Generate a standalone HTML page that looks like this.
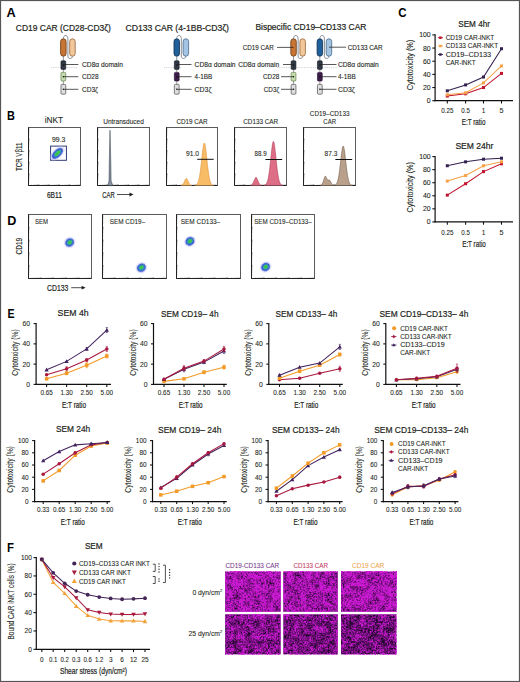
<!DOCTYPE html>
<html><head><meta charset="utf-8"><style>
html,body{margin:0;padding:0;background:#fff;width:520px;height:682px;overflow:hidden}
svg{display:block;font-family:"Liberation Sans", sans-serif}
</style></head><body>
<svg width="520" height="682" viewBox="0 0 520 682"><defs>
<filter id="bl" x="-50%" y="-50%" width="200%" height="200%"><feGaussianBlur stdDeviation="0.35"/></filter>
<filter id="n00" x="0" y="0" width="100%" height="100%" filterUnits="objectBoundingBox" color-interpolation-filters="sRGB">
<feTurbulence type="fractalNoise" baseFrequency="0.6" numOctaves="2" seed="3" result="t"/>
<feTurbulence type="fractalNoise" baseFrequency="0.15" numOctaves="2" seed="53" result="t2"/>
<feComposite in="t" in2="t2" operator="arithmetic" k1="0" k2="0.62" k3="0.38" k4="0" result="tt"/>
<feColorMatrix in="tt" type="matrix" values="0 0 0 0 0  0 0 0 0 0  0 0 0 0 0  3 0 0 0 -0.720" result="a"/>
<feFlood flood-color="#cc1ad4"/>
<feComposite in2="a" operator="in"/>
</filter>
<filter id="n01" x="0" y="0" width="100%" height="100%" filterUnits="objectBoundingBox" color-interpolation-filters="sRGB">
<feTurbulence type="fractalNoise" baseFrequency="0.6" numOctaves="2" seed="6" result="t"/>
<feTurbulence type="fractalNoise" baseFrequency="0.15" numOctaves="2" seed="56" result="t2"/>
<feComposite in="t" in2="t2" operator="arithmetic" k1="0" k2="0.62" k3="0.38" k4="0" result="tt"/>
<feColorMatrix in="tt" type="matrix" values="0 0 0 0 0  0 0 0 0 0  0 0 0 0 0  3 0 0 0 -0.765" result="a"/>
<feFlood flood-color="#cc1ad4"/>
<feComposite in2="a" operator="in"/>
</filter>
<filter id="n02" x="0" y="0" width="100%" height="100%" filterUnits="objectBoundingBox" color-interpolation-filters="sRGB">
<feTurbulence type="fractalNoise" baseFrequency="0.6" numOctaves="2" seed="9" result="t"/>
<feTurbulence type="fractalNoise" baseFrequency="0.15" numOctaves="2" seed="59" result="t2"/>
<feComposite in="t" in2="t2" operator="arithmetic" k1="0" k2="0.62" k3="0.38" k4="0" result="tt"/>
<feColorMatrix in="tt" type="matrix" values="0 0 0 0 0  0 0 0 0 0  0 0 0 0 0  3 0 0 0 -0.705" result="a"/>
<feFlood flood-color="#cc1ad4"/>
<feComposite in2="a" operator="in"/>
</filter>
<filter id="n10" x="0" y="0" width="100%" height="100%" filterUnits="objectBoundingBox" color-interpolation-filters="sRGB">
<feTurbulence type="fractalNoise" baseFrequency="0.6" numOctaves="2" seed="10" result="t"/>
<feTurbulence type="fractalNoise" baseFrequency="0.15" numOctaves="2" seed="60" result="t2"/>
<feComposite in="t" in2="t2" operator="arithmetic" k1="0" k2="0.62" k3="0.38" k4="0" result="tt"/>
<feColorMatrix in="tt" type="matrix" values="0 0 0 0 0  0 0 0 0 0  0 0 0 0 0  3 0 0 0 -0.930" result="a"/>
<feFlood flood-color="#cc1ad4"/>
<feComposite in2="a" operator="in"/>
</filter>
<filter id="n11" x="0" y="0" width="100%" height="100%" filterUnits="objectBoundingBox" color-interpolation-filters="sRGB">
<feTurbulence type="fractalNoise" baseFrequency="0.6" numOctaves="2" seed="13" result="t"/>
<feTurbulence type="fractalNoise" baseFrequency="0.15" numOctaves="2" seed="63" result="t2"/>
<feComposite in="t" in2="t2" operator="arithmetic" k1="0" k2="0.62" k3="0.38" k4="0" result="tt"/>
<feColorMatrix in="tt" type="matrix" values="0 0 0 0 0  0 0 0 0 0  0 0 0 0 0  3 0 0 0 -0.990" result="a"/>
<feFlood flood-color="#cc1ad4"/>
<feComposite in2="a" operator="in"/>
</filter>
<filter id="n12" x="0" y="0" width="100%" height="100%" filterUnits="objectBoundingBox" color-interpolation-filters="sRGB">
<feTurbulence type="fractalNoise" baseFrequency="0.6" numOctaves="2" seed="16" result="t"/>
<feTurbulence type="fractalNoise" baseFrequency="0.15" numOctaves="2" seed="66" result="t2"/>
<feComposite in="t" in2="t2" operator="arithmetic" k1="0" k2="0.62" k3="0.38" k4="0" result="tt"/>
<feColorMatrix in="tt" type="matrix" values="0 0 0 0 0  0 0 0 0 0  0 0 0 0 0  3 0 0 0 -1.020" result="a"/>
<feFlood flood-color="#cc1ad4"/>
<feComposite in2="a" operator="in"/>
</filter>
</defs>
<rect x="0.5" y="0.5" width="519" height="681" fill="none" stroke="#555" stroke-width="1.2" rx="0"/>
<text x="6.6" y="16.5" font-size="12.4" font-weight="bold" textLength="9.2" lengthAdjust="spacingAndGlyphs" fill="#000">A</text>
<text x="6.9" y="120" font-size="12.4" font-weight="bold" textLength="7.9" lengthAdjust="spacingAndGlyphs" fill="#000">B</text>
<text x="398.3" y="16.7" font-size="12.4" font-weight="bold" textLength="8.3" lengthAdjust="spacingAndGlyphs" fill="#000">C</text>
<text x="7.2" y="224.6" font-size="12.4" font-weight="bold" textLength="9.1" lengthAdjust="spacingAndGlyphs" fill="#000">D</text>
<text x="7.4" y="317.6" font-size="12.4" font-weight="bold" textLength="7.1" lengthAdjust="spacingAndGlyphs" fill="#000">E</text>
<text x="6.9" y="551.7" font-size="12.4" font-weight="bold" textLength="7.0" lengthAdjust="spacingAndGlyphs" fill="#000">F</text>
<text x="15.8" y="30.8" font-size="8.6" textLength="95" lengthAdjust="spacingAndGlyphs" fill="#231F20" stroke="#231F20" stroke-width="0.2">CD19 CAR (CD28-CD3ζ)</text>
<text x="125.5" y="30.8" font-size="8.6" textLength="103.5" lengthAdjust="spacingAndGlyphs" fill="#231F20" stroke="#231F20" stroke-width="0.2">CD133 CAR (4-1BB-CD3ζ)</text>
<text x="255.4" y="30.2" font-size="8.6" textLength="111" lengthAdjust="spacingAndGlyphs" fill="#231F20" stroke="#231F20" stroke-width="0.2">Bispecific CD19–CD133 CAR</text>
<path d="M63.35,38.8 C63.35,34.3 67.89999999999999,34.3 67.89999999999999,38.8 L67.89999999999999,56.2 C67.89999999999999,59.2 72.44999999999999,59.2 72.44999999999999,56.2" fill="none" stroke="#56606c" stroke-width="0.7"/>
<rect x="60.6" y="38.8" width="5.5" height="17.400000000000006" fill="#c87533" stroke="#6e3f18" stroke-width="0.85" rx="2.75"/>
<rect x="69.69999999999999" y="38.8" width="5.5" height="17.400000000000006" fill="#f2c89a" stroke="#9a6a44" stroke-width="0.85" rx="2.75"/>
<line x1="63.35" y1="56.2" x2="63.35" y2="61" stroke="#3a4a5a" stroke-width="0.6"/>
<line x1="63.35" y1="69.4" x2="63.35" y2="72.4" stroke="#555" stroke-width="0.6"/>
<line x1="63.35" y1="81.0" x2="63.35" y2="84.4" stroke="#555" stroke-width="0.6"/>
<line x1="51" y1="67.6" x2="77" y2="67.6" stroke="#a8a8b8" stroke-width="0.6" stroke-dasharray="0.9,0.9"/>
<rect x="60.95" y="60.8" width="4.8" height="8.600000000000009" fill="#2f3844" stroke="#161a20" stroke-width="0.6" rx="1"/>
<circle cx="63.35" cy="65.1" r="0.7" fill="#111"/>
<rect x="60.95" y="72.4" width="4.8" height="8.599999999999994" fill="#c6dcae" stroke="#4f6f37" stroke-width="0.6" rx="1"/>
<circle cx="63.35" cy="76.7" r="0.7" fill="#111"/>
<rect x="60.95" y="84.4" width="4.8" height="9.799999999999997" fill="#dedede" stroke="#333333" stroke-width="0.6" rx="1"/>
<circle cx="63.35" cy="89.30000000000001" r="0.7" fill="#111"/>
<line x1="63.35" y1="64.5" x2="78.3" y2="64.5" stroke="#231F20" stroke-width="0.75"/>
<text x="82" y="66.8" font-size="6.8" textLength="41" lengthAdjust="spacingAndGlyphs" fill="#231F20" stroke="#231F20" stroke-width="0.1">CD8α domain</text>
<line x1="63.35" y1="76.7" x2="78.3" y2="76.7" stroke="#231F20" stroke-width="0.75"/>
<text x="82" y="79.0" font-size="6.8" textLength="16.6" lengthAdjust="spacingAndGlyphs" fill="#231F20" stroke="#231F20" stroke-width="0.1">CD28</text>
<line x1="63.35" y1="89.3" x2="78.3" y2="89.3" stroke="#231F20" stroke-width="0.75"/>
<text x="82" y="91.6" font-size="6.8" textLength="16" lengthAdjust="spacingAndGlyphs" fill="#231F20" stroke="#231F20" stroke-width="0.1">CD3ζ</text>
<path d="M176.75,38.8 C176.75,34.3 181.3,34.3 181.3,38.8 L181.3,56.2 C181.3,59.2 185.85,59.2 185.85,56.2" fill="none" stroke="#56606c" stroke-width="0.7"/>
<rect x="174.0" y="38.8" width="5.5" height="17.400000000000006" fill="#1f5f9a" stroke="#143456" stroke-width="0.85" rx="2.75"/>
<rect x="183.1" y="38.8" width="5.5" height="17.400000000000006" fill="#a3c4e2" stroke="#4f6f8e" stroke-width="0.85" rx="2.75"/>
<line x1="176.75" y1="56.2" x2="176.75" y2="61" stroke="#3a4a5a" stroke-width="0.6"/>
<line x1="176.75" y1="69.4" x2="176.75" y2="72.4" stroke="#555" stroke-width="0.6"/>
<line x1="176.75" y1="81.0" x2="176.75" y2="84.4" stroke="#555" stroke-width="0.6"/>
<line x1="164" y1="67.6" x2="181" y2="67.6" stroke="#a8a8b8" stroke-width="0.6" stroke-dasharray="0.9,0.9"/>
<rect x="174.35" y="60.8" width="4.8" height="8.600000000000009" fill="#2f3844" stroke="#161a20" stroke-width="0.6" rx="1"/>
<circle cx="176.75" cy="65.1" r="0.7" fill="#111"/>
<rect x="174.35" y="72.4" width="4.8" height="8.599999999999994" fill="#3e1d4c" stroke="#1c0c26" stroke-width="0.6" rx="1"/>
<circle cx="176.75" cy="76.7" r="0.7" fill="#111"/>
<rect x="174.35" y="84.4" width="4.8" height="9.799999999999997" fill="#dedede" stroke="#333333" stroke-width="0.6" rx="1"/>
<circle cx="176.75" cy="89.30000000000001" r="0.7" fill="#111"/>
<line x1="176.75" y1="64.5" x2="191.5" y2="64.5" stroke="#231F20" stroke-width="0.75"/>
<text x="194.6" y="66.8" font-size="6.8" textLength="41" lengthAdjust="spacingAndGlyphs" fill="#231F20" stroke="#231F20" stroke-width="0.1">CD8α domain</text>
<line x1="176.75" y1="76.7" x2="191.5" y2="76.7" stroke="#231F20" stroke-width="0.75"/>
<text x="194.6" y="79.0" font-size="6.8" textLength="17.7" lengthAdjust="spacingAndGlyphs" fill="#231F20" stroke="#231F20" stroke-width="0.1">4-1BB</text>
<line x1="176.75" y1="89.3" x2="191.5" y2="89.3" stroke="#231F20" stroke-width="0.75"/>
<text x="194.6" y="91.6" font-size="6.8" textLength="16.9" lengthAdjust="spacingAndGlyphs" fill="#231F20" stroke="#231F20" stroke-width="0.1">CD3ζ</text>
<path d="M293.55,38.8 C293.55,34.3 298.1,34.3 298.1,38.8 L298.1,56.2 C298.1,59.2 302.65000000000003,59.2 302.65000000000003,56.2" fill="none" stroke="#56606c" stroke-width="0.7"/>
<rect x="290.8" y="38.8" width="5.5" height="17.400000000000006" fill="#c87533" stroke="#6e3f18" stroke-width="0.85" rx="2.75"/>
<rect x="299.90000000000003" y="38.8" width="5.5" height="17.400000000000006" fill="#f2c89a" stroke="#9a6a44" stroke-width="0.85" rx="2.75"/>
<line x1="293.55" y1="56.2" x2="293.55" y2="61" stroke="#3a4a5a" stroke-width="0.6"/>
<line x1="293.55" y1="69.4" x2="293.55" y2="72.4" stroke="#555" stroke-width="0.6"/>
<line x1="293.55" y1="81.0" x2="293.55" y2="84.4" stroke="#555" stroke-width="0.6"/>
<line x1="277" y1="67.6" x2="338" y2="67.6" stroke="#a8a8b8" stroke-width="0.6" stroke-dasharray="0.9,0.9"/>
<rect x="291.15000000000003" y="60.8" width="4.8" height="8.600000000000009" fill="#2f3844" stroke="#161a20" stroke-width="0.6" rx="1"/>
<circle cx="293.55" cy="65.1" r="0.7" fill="#111"/>
<rect x="291.15000000000003" y="72.4" width="4.8" height="8.599999999999994" fill="#c6dcae" stroke="#4f6f37" stroke-width="0.6" rx="1"/>
<circle cx="293.55" cy="76.7" r="0.7" fill="#111"/>
<rect x="291.15000000000003" y="84.4" width="4.8" height="9.799999999999997" fill="#dedede" stroke="#333333" stroke-width="0.6" rx="1"/>
<circle cx="293.55" cy="89.30000000000001" r="0.7" fill="#111"/>
<line x1="277" y1="47.4" x2="293.55" y2="47.4" stroke="#231F20" stroke-width="0.75"/>
<text x="273.8" y="49.7" font-size="6.8" text-anchor="end" textLength="31" lengthAdjust="spacingAndGlyphs" fill="#231F20" stroke="#231F20" stroke-width="0.1">CD19 CAR</text>
<line x1="283" y1="64.5" x2="293.55" y2="64.5" stroke="#231F20" stroke-width="0.75"/>
<text x="279.2" y="66.8" font-size="6.8" text-anchor="end" textLength="41" lengthAdjust="spacingAndGlyphs" fill="#231F20" stroke="#231F20" stroke-width="0.1">CD8α domain</text>
<line x1="281" y1="76.7" x2="293.55" y2="76.7" stroke="#231F20" stroke-width="0.75"/>
<text x="279.2" y="79.0" font-size="6.8" text-anchor="end" textLength="16.2" lengthAdjust="spacingAndGlyphs" fill="#231F20" stroke="#231F20" stroke-width="0.1">CD28</text>
<line x1="281" y1="89.3" x2="293.55" y2="89.3" stroke="#231F20" stroke-width="0.75"/>
<text x="279.2" y="91.6" font-size="6.8" text-anchor="end" textLength="15.4" lengthAdjust="spacingAndGlyphs" fill="#231F20" stroke="#231F20" stroke-width="0.1">CD3ζ</text>
<path d="M319.85,38.8 C319.85,34.3 324.40000000000003,34.3 324.40000000000003,38.8 L324.40000000000003,56.2 C324.40000000000003,59.2 328.95000000000005,59.2 328.95000000000005,56.2" fill="none" stroke="#56606c" stroke-width="0.7"/>
<rect x="317.1" y="38.8" width="5.5" height="17.400000000000006" fill="#1f5f9a" stroke="#143456" stroke-width="0.85" rx="2.75"/>
<rect x="326.20000000000005" y="38.8" width="5.5" height="17.400000000000006" fill="#a3c4e2" stroke="#4f6f8e" stroke-width="0.85" rx="2.75"/>
<line x1="319.85" y1="56.2" x2="319.85" y2="61" stroke="#3a4a5a" stroke-width="0.6"/>
<line x1="319.85" y1="69.4" x2="319.85" y2="72.4" stroke="#555" stroke-width="0.6"/>
<line x1="319.85" y1="81.0" x2="319.85" y2="84.4" stroke="#555" stroke-width="0.6"/>
<rect x="317.45000000000005" y="60.8" width="4.8" height="8.600000000000009" fill="#2f3844" stroke="#161a20" stroke-width="0.6" rx="1"/>
<circle cx="319.85" cy="65.1" r="0.7" fill="#111"/>
<rect x="317.45000000000005" y="72.4" width="4.8" height="8.599999999999994" fill="#3e1d4c" stroke="#1c0c26" stroke-width="0.6" rx="1"/>
<circle cx="319.85" cy="76.7" r="0.7" fill="#111"/>
<rect x="317.45000000000005" y="84.4" width="4.8" height="9.799999999999997" fill="#dedede" stroke="#333333" stroke-width="0.6" rx="1"/>
<circle cx="319.85" cy="89.30000000000001" r="0.7" fill="#111"/>
<line x1="329.0" y1="47.2" x2="346" y2="47.2" stroke="#231F20" stroke-width="0.75"/>
<text x="347.7" y="49.5" font-size="6.8" textLength="35" lengthAdjust="spacingAndGlyphs" fill="#231F20" stroke="#231F20" stroke-width="0.1">CD133 CAR</text>
<line x1="319.85" y1="64.5" x2="336.5" y2="64.5" stroke="#231F20" stroke-width="0.75"/>
<text x="338" y="66.8" font-size="6.8" textLength="40.8" lengthAdjust="spacingAndGlyphs" fill="#231F20" stroke="#231F20" stroke-width="0.1">CD8α domain</text>
<line x1="319.85" y1="76.7" x2="336.5" y2="76.7" stroke="#231F20" stroke-width="0.75"/>
<text x="338" y="79.0" font-size="6.8" textLength="17.7" lengthAdjust="spacingAndGlyphs" fill="#231F20" stroke="#231F20" stroke-width="0.1">4-1BB</text>
<line x1="319.85" y1="89.3" x2="336.5" y2="89.3" stroke="#231F20" stroke-width="0.75"/>
<text x="338" y="91.6" font-size="6.8" textLength="16.9" lengthAdjust="spacingAndGlyphs" fill="#231F20" stroke="#231F20" stroke-width="0.1">CD3ζ</text>
<rect x="28.5" y="127.5" width="52.0" height="58.0" fill="#fff" stroke="#4a4a4a" stroke-width="0.9" rx="0"/>
<path d="M28.2,182.0h1.1M31.6,185.8v-1.1M28.2,180.0h1.1M33.5,185.8v-1.1M28.2,178.5h1.1M34.8,185.8v-1.1M28.2,177.4h1.1M35.8,185.8v-1.1M28.2,176.5h1.1M36.6,185.8v-1.1M28.2,175.7h1.1M37.3,185.8v-1.1M28.2,175.0h1.1M37.9,185.8v-1.1M28.2,174.4h1.1M38.4,185.8v-1.1M28.2,173.9h1.6M38.9,185.8v-1.6M28.2,170.4h1.1M42.0,185.8v-1.1M28.2,168.4h1.1M43.9,185.8v-1.1M28.2,166.9h1.1M45.2,185.8v-1.1M28.2,165.8h1.1M46.2,185.8v-1.1M28.2,164.9h1.1M47.0,185.8v-1.1M28.2,164.1h1.1M47.7,185.8v-1.1M28.2,163.4h1.1M48.3,185.8v-1.1M28.2,162.8h1.1M48.8,185.8v-1.1M28.2,162.3h1.6M49.3,185.8v-1.6M28.2,158.8h1.1M52.4,185.8v-1.1M28.2,156.8h1.1M54.3,185.8v-1.1M28.2,155.3h1.1M55.6,185.8v-1.1M28.2,154.2h1.1M56.6,185.8v-1.1M28.2,153.3h1.1M57.4,185.8v-1.1M28.2,152.5h1.1M58.1,185.8v-1.1M28.2,151.8h1.1M58.7,185.8v-1.1M28.2,151.2h1.1M59.2,185.8v-1.1M28.2,150.7h1.6M59.7,185.8v-1.6M28.2,147.2h1.1M62.8,185.8v-1.1M28.2,145.2h1.1M64.7,185.8v-1.1M28.2,143.7h1.1M66.0,185.8v-1.1M28.2,142.6h1.1M67.0,185.8v-1.1M28.2,141.7h1.1M67.8,185.8v-1.1M28.2,140.9h1.1M68.5,185.8v-1.1M28.2,140.2h1.1M69.1,185.8v-1.1M28.2,139.6h1.1M69.6,185.8v-1.1M28.2,139.1h1.6M70.1,185.8v-1.6M28.2,135.6h1.1M73.2,185.8v-1.1M28.2,133.6h1.1M75.1,185.8v-1.1M28.2,132.1h1.1M76.4,185.8v-1.1M28.2,131.0h1.1M77.4,185.8v-1.1M28.2,130.1h1.1M78.2,185.8v-1.1M28.2,129.3h1.1M78.9,185.8v-1.1M28.2,128.6h1.1M79.5,185.8v-1.1" stroke="#333" stroke-width="0.45" fill="none"/>
<path d="M28.5,127.5V185.5H80.5" stroke="#222" stroke-width="1.0" fill="none"/>
<text x="44.7" y="123.1" font-size="8.4" textLength="18.5" lengthAdjust="spacingAndGlyphs" fill="#231F20" stroke="#231F20" stroke-width="0.08">iNKT</text>
<text x="52" y="142" font-size="6.4" textLength="13.4" lengthAdjust="spacingAndGlyphs" fill="#231F20" stroke="#231F20" stroke-width="0.08">99.3</text>
<rect x="50.6" y="146.1" width="15.8" height="14.2" fill="none" stroke="#26306e" stroke-width="0.95" rx="0"/>
<g transform="rotate(-44 57.4 153.4)" filter="url(#bl)">
<ellipse cx="57.4" cy="153.4" rx="8.84" ry="4.995000000000001" fill="#c0c8ff" opacity="0.5"/>
<ellipse cx="57.4" cy="153.4" rx="6.8" ry="3.7" fill="#3646c8"/>
<ellipse cx="57.4" cy="153.4" rx="5.304" ry="2.738" fill="#2f7fd8"/>
<ellipse cx="57.6" cy="153.3" rx="3.74" ry="1.85" fill="#3cc44c"/>
</g>
<text transform="translate(22.0,171.0) rotate(-90)" font-size="8.6" fill="#231F20" stroke="#231F20" stroke-width="0.12" textLength="28.3" lengthAdjust="spacingAndGlyphs">TCR Vβ11</text>
<text x="46.9" y="197.9" font-size="8.8" textLength="15.0" lengthAdjust="spacingAndGlyphs" fill="#231F20" stroke="#231F20" stroke-width="0.2">6B11</text>
<rect x="97.5" y="127.5" width="52.0" height="58.0" fill="#fff" stroke="#4a4a4a" stroke-width="0.9" rx="0"/>
<path d="M97.2,182.0h1.1M100.6,185.8v-1.1M97.2,180.0h1.1M102.5,185.8v-1.1M97.2,178.5h1.1M103.8,185.8v-1.1M97.2,177.4h1.1M104.8,185.8v-1.1M97.2,176.5h1.1M105.6,185.8v-1.1M97.2,175.7h1.1M106.3,185.8v-1.1M97.2,175.0h1.1M106.9,185.8v-1.1M97.2,174.4h1.1M107.4,185.8v-1.1M97.2,173.9h1.6M107.9,185.8v-1.6M97.2,170.4h1.1M111.0,185.8v-1.1M97.2,168.4h1.1M112.9,185.8v-1.1M97.2,166.9h1.1M114.2,185.8v-1.1M97.2,165.8h1.1M115.2,185.8v-1.1M97.2,164.9h1.1M116.0,185.8v-1.1M97.2,164.1h1.1M116.7,185.8v-1.1M97.2,163.4h1.1M117.3,185.8v-1.1M97.2,162.8h1.1M117.8,185.8v-1.1M97.2,162.3h1.6M118.3,185.8v-1.6M97.2,158.8h1.1M121.4,185.8v-1.1M97.2,156.8h1.1M123.3,185.8v-1.1M97.2,155.3h1.1M124.6,185.8v-1.1M97.2,154.2h1.1M125.6,185.8v-1.1M97.2,153.3h1.1M126.4,185.8v-1.1M97.2,152.5h1.1M127.1,185.8v-1.1M97.2,151.8h1.1M127.7,185.8v-1.1M97.2,151.2h1.1M128.2,185.8v-1.1M97.2,150.7h1.6M128.7,185.8v-1.6M97.2,147.2h1.1M131.8,185.8v-1.1M97.2,145.2h1.1M133.7,185.8v-1.1M97.2,143.7h1.1M135.0,185.8v-1.1M97.2,142.6h1.1M136.0,185.8v-1.1M97.2,141.7h1.1M136.8,185.8v-1.1M97.2,140.9h1.1M137.5,185.8v-1.1M97.2,140.2h1.1M138.1,185.8v-1.1M97.2,139.6h1.1M138.6,185.8v-1.1M97.2,139.1h1.6M139.1,185.8v-1.6M97.2,135.6h1.1M142.2,185.8v-1.1M97.2,133.6h1.1M144.1,185.8v-1.1M97.2,132.1h1.1M145.4,185.8v-1.1M97.2,131.0h1.1M146.4,185.8v-1.1M97.2,130.1h1.1M147.2,185.8v-1.1M97.2,129.3h1.1M147.9,185.8v-1.1M97.2,128.6h1.1M148.5,185.8v-1.1" stroke="#333" stroke-width="0.45" fill="none"/>
<path d="M97.5,127.5V185.5H149.5" stroke="#222" stroke-width="1.0" fill="none"/>
<text x="103.2" y="123.8" font-size="6.4" textLength="40.6" lengthAdjust="spacingAndGlyphs" fill="#231F20" stroke="#231F20" stroke-width="0.08">Untransduced</text>
<path d="M107.8,185.6 L109.0,181 L109.3,162 L110.0,130.2 L110.8,162 L111.1,181 L112.9,185.6 Z" fill="#8591a0" stroke="#2e3844" stroke-width="0.5"/>
<text x="102.3" y="197.5" font-size="8.6" textLength="12.3" lengthAdjust="spacingAndGlyphs" fill="#231F20" stroke="#231F20" stroke-width="0.2">CAR</text>
<line x1="117" y1="194.5" x2="131.5" y2="194.5" stroke="#231F20" stroke-width="0.8"/>
<path d="M133.5,194.5 L129.5,192.6 L129.5,196.4 Z" fill="#231F20"/>
<rect x="166.5" y="127.5" width="51.0" height="58.0" fill="#fff" stroke="#4a4a4a" stroke-width="0.9" rx="0"/>
<path d="M166.2,182.0h1.1M169.6,185.8v-1.1M166.2,180.0h1.1M171.4,185.8v-1.1M166.2,178.5h1.1M172.6,185.8v-1.1M166.2,177.4h1.1M173.6,185.8v-1.1M166.2,176.5h1.1M174.4,185.8v-1.1M166.2,175.7h1.1M175.1,185.8v-1.1M166.2,175.0h1.1M175.7,185.8v-1.1M166.2,174.4h1.1M176.2,185.8v-1.1M166.2,173.9h1.6M176.7,185.8v-1.6M166.2,170.4h1.1M179.8,185.8v-1.1M166.2,168.4h1.1M181.6,185.8v-1.1M166.2,166.9h1.1M182.8,185.8v-1.1M166.2,165.8h1.1M183.8,185.8v-1.1M166.2,164.9h1.1M184.6,185.8v-1.1M166.2,164.1h1.1M185.3,185.8v-1.1M166.2,163.4h1.1M185.9,185.8v-1.1M166.2,162.8h1.1M186.4,185.8v-1.1M166.2,162.3h1.6M186.9,185.8v-1.6M166.2,158.8h1.1M190.0,185.8v-1.1M166.2,156.8h1.1M191.8,185.8v-1.1M166.2,155.3h1.1M193.0,185.8v-1.1M166.2,154.2h1.1M194.0,185.8v-1.1M166.2,153.3h1.1M194.8,185.8v-1.1M166.2,152.5h1.1M195.5,185.8v-1.1M166.2,151.8h1.1M196.1,185.8v-1.1M166.2,151.2h1.1M196.6,185.8v-1.1M166.2,150.7h1.6M197.1,185.8v-1.6M166.2,147.2h1.1M200.2,185.8v-1.1M166.2,145.2h1.1M202.0,185.8v-1.1M166.2,143.7h1.1M203.2,185.8v-1.1M166.2,142.6h1.1M204.2,185.8v-1.1M166.2,141.7h1.1M205.0,185.8v-1.1M166.2,140.9h1.1M205.7,185.8v-1.1M166.2,140.2h1.1M206.3,185.8v-1.1M166.2,139.6h1.1M206.8,185.8v-1.1M166.2,139.1h1.6M207.3,185.8v-1.6M166.2,135.6h1.1M210.4,185.8v-1.1M166.2,133.6h1.1M212.2,185.8v-1.1M166.2,132.1h1.1M213.4,185.8v-1.1M166.2,131.0h1.1M214.4,185.8v-1.1M166.2,130.1h1.1M215.2,185.8v-1.1M166.2,129.3h1.1M215.9,185.8v-1.1M166.2,128.6h1.1" stroke="#333" stroke-width="0.45" fill="none"/>
<path d="M166.5,127.5V185.5H217.5" stroke="#222" stroke-width="1.0" fill="none"/>
<text x="176.4" y="123.5" font-size="6.6" textLength="31.2" lengthAdjust="spacingAndGlyphs" fill="#231F20" stroke="#231F20" stroke-width="0.08">CD19 CAR</text>
<path d="M181.00,185.50 L181.00,185.35 L181.25,185.29 L181.50,185.21 L181.75,185.11 L182.00,184.97 L182.25,184.80 L182.50,184.59 L182.75,184.33 L183.00,184.03 L183.25,183.67 L183.50,183.25 L183.75,182.79 L184.00,182.28 L184.25,181.74 L184.50,181.18 L184.75,180.62 L185.00,180.07 L185.25,179.56 L185.50,179.12 L185.75,178.76 L186.00,178.52 L186.25,178.40 L186.50,178.45 L186.75,178.65 L187.00,178.96 L187.25,179.37 L187.50,179.86 L187.75,180.39 L188.00,180.96 L188.25,181.52 L188.50,182.07 L188.75,182.59 L189.00,183.08 L189.25,183.51 L189.50,183.89 L189.75,184.22 L190.00,184.49 L190.25,184.72 L190.50,184.91 L190.75,185.06 L191.00,185.17 L191.25,185.26 L191.50,185.33 L191.75,185.38 L191.75,185.50" fill="#f8bb66" stroke="#dc9030" stroke-width="0.55"/>
<path d="M194.75,185.50 L194.75,185.37 L195.00,185.32 L195.25,185.26 L195.50,185.19 L195.75,185.10 L196.00,184.98 L196.25,184.84 L196.50,184.66 L196.75,184.43 L197.00,184.16 L197.25,183.82 L197.50,183.42 L197.75,182.94 L198.00,182.38 L198.25,181.71 L198.50,180.93 L198.75,180.04 L199.00,179.01 L199.25,177.85 L199.50,176.54 L199.75,175.08 L200.00,173.47 L200.25,171.72 L200.50,169.83 L200.75,167.81 L201.00,165.67 L201.25,163.45 L201.50,161.16 L201.75,158.84 L202.00,156.52 L202.25,154.24 L202.50,152.05 L202.75,149.99 L203.00,148.10 L203.25,146.44 L203.50,145.05 L203.75,143.97 L204.00,143.24 L204.25,142.91 L204.50,143.06 L204.75,143.63 L205.00,144.58 L205.25,145.85 L205.50,147.41 L205.75,149.21 L206.00,151.21 L206.25,153.35 L206.50,155.60 L206.75,157.91 L207.00,160.23 L207.25,162.54 L207.50,164.79 L207.75,166.97 L208.00,169.03 L208.25,170.98 L208.50,172.79 L208.75,174.46 L209.00,175.97 L209.25,177.34 L209.50,178.56 L209.75,179.64 L210.00,180.59 L210.25,181.41 L210.50,182.12 L210.75,182.73 L211.00,183.24 L211.25,183.67 L211.50,184.03 L211.75,184.33 L212.00,184.57 L212.25,184.77 L212.50,184.93 L212.75,185.06 L213.00,185.16 L213.25,185.24 L213.50,185.30 L213.75,185.35 L213.75,185.50" fill="#f8bb66" stroke="#dc9030" stroke-width="0.55"/>
<line x1="197.2" y1="159.3" x2="213.7" y2="159.3" stroke="#111" stroke-width="1.0"/>
<text x="186" y="155.9" font-size="6.4" textLength="13" lengthAdjust="spacingAndGlyphs" fill="#231F20" stroke="#231F20" stroke-width="0.08">91.0</text>
<rect x="234.5" y="127.5" width="52.0" height="58.0" fill="#fff" stroke="#4a4a4a" stroke-width="0.9" rx="0"/>
<path d="M234.2,182.0h1.1M237.6,185.8v-1.1M234.2,180.0h1.1M239.5,185.8v-1.1M234.2,178.5h1.1M240.8,185.8v-1.1M234.2,177.4h1.1M241.8,185.8v-1.1M234.2,176.5h1.1M242.6,185.8v-1.1M234.2,175.7h1.1M243.3,185.8v-1.1M234.2,175.0h1.1M243.9,185.8v-1.1M234.2,174.4h1.1M244.4,185.8v-1.1M234.2,173.9h1.6M244.9,185.8v-1.6M234.2,170.4h1.1M248.0,185.8v-1.1M234.2,168.4h1.1M249.9,185.8v-1.1M234.2,166.9h1.1M251.2,185.8v-1.1M234.2,165.8h1.1M252.2,185.8v-1.1M234.2,164.9h1.1M253.0,185.8v-1.1M234.2,164.1h1.1M253.7,185.8v-1.1M234.2,163.4h1.1M254.3,185.8v-1.1M234.2,162.8h1.1M254.8,185.8v-1.1M234.2,162.3h1.6M255.3,185.8v-1.6M234.2,158.8h1.1M258.4,185.8v-1.1M234.2,156.8h1.1M260.3,185.8v-1.1M234.2,155.3h1.1M261.6,185.8v-1.1M234.2,154.2h1.1M262.6,185.8v-1.1M234.2,153.3h1.1M263.4,185.8v-1.1M234.2,152.5h1.1M264.1,185.8v-1.1M234.2,151.8h1.1M264.7,185.8v-1.1M234.2,151.2h1.1M265.2,185.8v-1.1M234.2,150.7h1.6M265.7,185.8v-1.6M234.2,147.2h1.1M268.8,185.8v-1.1M234.2,145.2h1.1M270.7,185.8v-1.1M234.2,143.7h1.1M272.0,185.8v-1.1M234.2,142.6h1.1M273.0,185.8v-1.1M234.2,141.7h1.1M273.8,185.8v-1.1M234.2,140.9h1.1M274.5,185.8v-1.1M234.2,140.2h1.1M275.1,185.8v-1.1M234.2,139.6h1.1M275.6,185.8v-1.1M234.2,139.1h1.6M276.1,185.8v-1.6M234.2,135.6h1.1M279.2,185.8v-1.1M234.2,133.6h1.1M281.1,185.8v-1.1M234.2,132.1h1.1M282.4,185.8v-1.1M234.2,131.0h1.1M283.4,185.8v-1.1M234.2,130.1h1.1M284.2,185.8v-1.1M234.2,129.3h1.1M284.9,185.8v-1.1M234.2,128.6h1.1M285.5,185.8v-1.1" stroke="#333" stroke-width="0.45" fill="none"/>
<path d="M234.5,127.5V185.5H286.5" stroke="#222" stroke-width="1.0" fill="none"/>
<text x="243.2" y="123.8" font-size="6.6" textLength="35" lengthAdjust="spacingAndGlyphs" fill="#231F20" stroke="#231F20" stroke-width="0.08">CD133 CAR</text>
<path d="M250.30,185.50 L250.30,185.37 L250.56,185.31 L250.81,185.24 L251.06,185.15 L251.32,185.02 L251.57,184.86 L251.83,184.66 L252.09,184.42 L252.34,184.12 L252.59,183.77 L252.85,183.35 L253.10,182.88 L253.36,182.35 L253.62,181.78 L253.87,181.16 L254.12,180.53 L254.38,179.89 L254.63,179.26 L254.89,178.68 L255.15,178.17 L255.40,177.76 L255.66,177.46 L255.91,177.31 L256.17,177.34 L256.42,177.54 L256.68,177.87 L256.93,178.31 L257.19,178.85 L257.44,179.44 L257.69,180.07 L257.95,180.72 L258.20,181.35 L258.46,181.95 L258.71,182.52 L258.97,183.03 L259.23,183.48 L259.48,183.88 L259.74,184.21 L259.99,184.50 L260.25,184.73 L260.50,184.91 L260.75,185.06 L261.01,185.17 L261.26,185.26 L261.52,185.33 L261.77,185.37 L261.77,185.50" fill="#de6e86" stroke="#a83452" stroke-width="0.55"/>
<path d="M263.81,185.50 L263.81,185.36 L264.07,185.32 L264.32,185.26 L264.58,185.19 L264.83,185.09 L265.09,184.97 L265.35,184.82 L265.60,184.63 L265.86,184.39 L266.11,184.10 L266.37,183.74 L266.62,183.31 L266.88,182.80 L267.13,182.19 L267.38,181.47 L267.64,180.63 L267.89,179.66 L268.15,178.55 L268.40,177.29 L268.66,175.87 L268.92,174.30 L269.17,172.56 L269.43,170.66 L269.68,168.62 L269.94,166.45 L270.19,164.16 L270.44,161.78 L270.70,159.34 L270.95,156.89 L271.21,154.45 L271.47,152.08 L271.72,149.83 L271.98,147.74 L272.23,145.86 L272.49,144.25 L272.74,142.96 L273.00,142.02 L273.25,141.49 L273.50,141.45 L273.76,141.90 L274.01,142.76 L274.27,144.00 L274.52,145.56 L274.78,147.39 L275.03,149.45 L275.29,151.68 L275.55,154.03 L275.80,156.46 L276.06,158.91 L276.31,161.35 L276.56,163.74 L276.82,166.05 L277.07,168.25 L277.33,170.31 L277.58,172.23 L277.84,174.00 L278.10,175.61 L278.35,177.05 L278.61,178.34 L278.86,179.48 L279.12,180.47 L279.37,181.33 L279.62,182.07 L279.88,182.70 L280.13,183.23 L280.39,183.67 L280.64,184.04 L280.90,184.34 L281.15,184.59 L281.41,184.79 L281.67,184.95 L281.92,185.07 L282.18,185.17 L282.43,185.25 L282.69,185.31 L282.94,185.36 L282.94,185.50" fill="#de6e86" stroke="#a83452" stroke-width="0.55"/>
<line x1="265.4" y1="159.5" x2="282.2" y2="159.5" stroke="#111" stroke-width="1.0"/>
<text x="254.6" y="156.1" font-size="6.4" textLength="12.1" lengthAdjust="spacingAndGlyphs" fill="#231F20" stroke="#231F20" stroke-width="0.08">88.9</text>
<rect x="303.5" y="127.5" width="52.0" height="58.0" fill="#fff" stroke="#4a4a4a" stroke-width="0.9" rx="0"/>
<path d="M303.2,182.0h1.1M306.6,185.8v-1.1M303.2,180.0h1.1M308.5,185.8v-1.1M303.2,178.5h1.1M309.8,185.8v-1.1M303.2,177.4h1.1M310.8,185.8v-1.1M303.2,176.5h1.1M311.6,185.8v-1.1M303.2,175.7h1.1M312.3,185.8v-1.1M303.2,175.0h1.1M312.9,185.8v-1.1M303.2,174.4h1.1M313.4,185.8v-1.1M303.2,173.9h1.6M313.9,185.8v-1.6M303.2,170.4h1.1M317.0,185.8v-1.1M303.2,168.4h1.1M318.9,185.8v-1.1M303.2,166.9h1.1M320.2,185.8v-1.1M303.2,165.8h1.1M321.2,185.8v-1.1M303.2,164.9h1.1M322.0,185.8v-1.1M303.2,164.1h1.1M322.7,185.8v-1.1M303.2,163.4h1.1M323.3,185.8v-1.1M303.2,162.8h1.1M323.8,185.8v-1.1M303.2,162.3h1.6M324.3,185.8v-1.6M303.2,158.8h1.1M327.4,185.8v-1.1M303.2,156.8h1.1M329.3,185.8v-1.1M303.2,155.3h1.1M330.6,185.8v-1.1M303.2,154.2h1.1M331.6,185.8v-1.1M303.2,153.3h1.1M332.4,185.8v-1.1M303.2,152.5h1.1M333.1,185.8v-1.1M303.2,151.8h1.1M333.7,185.8v-1.1M303.2,151.2h1.1M334.2,185.8v-1.1M303.2,150.7h1.6M334.7,185.8v-1.6M303.2,147.2h1.1M337.8,185.8v-1.1M303.2,145.2h1.1M339.7,185.8v-1.1M303.2,143.7h1.1M341.0,185.8v-1.1M303.2,142.6h1.1M342.0,185.8v-1.1M303.2,141.7h1.1M342.8,185.8v-1.1M303.2,140.9h1.1M343.5,185.8v-1.1M303.2,140.2h1.1M344.1,185.8v-1.1M303.2,139.6h1.1M344.6,185.8v-1.1M303.2,139.1h1.6M345.1,185.8v-1.6M303.2,135.6h1.1M348.2,185.8v-1.1M303.2,133.6h1.1M350.1,185.8v-1.1M303.2,132.1h1.1M351.4,185.8v-1.1M303.2,131.0h1.1M352.4,185.8v-1.1M303.2,130.1h1.1M353.2,185.8v-1.1M303.2,129.3h1.1M353.9,185.8v-1.1M303.2,128.6h1.1M354.5,185.8v-1.1" stroke="#333" stroke-width="0.45" fill="none"/>
<path d="M303.5,127.5V185.5H355.5" stroke="#222" stroke-width="1.0" fill="none"/>
<text x="309.8" y="115.9" font-size="6.6" textLength="39.7" lengthAdjust="spacingAndGlyphs" fill="#231F20" stroke="#231F20" stroke-width="0.08">CD19–CD133</text>
<text x="323.3" y="123.7" font-size="6.6" textLength="12.7" lengthAdjust="spacingAndGlyphs" fill="#231F20" stroke="#231F20" stroke-width="0.08">CAR</text>
<path d="M320.41,185.50 L320.41,185.36 L320.66,185.29 L320.91,185.20 L321.17,185.06 L321.42,184.88 L321.67,184.65 L321.92,184.34 L322.18,183.96 L322.43,183.50 L322.68,182.94 L322.93,182.30 L323.19,181.58 L323.44,180.79 L323.69,179.95 L323.94,179.11 L324.19,178.30 L324.45,177.56 L324.70,176.93 L324.95,176.46 L325.20,176.18 L325.46,176.15 L325.71,176.34 L325.96,176.70 L326.21,177.18 L326.47,177.72 L326.72,178.28 L326.97,178.81 L327.23,179.27 L327.48,179.63 L327.73,179.89 L327.98,180.04 L328.24,180.10 L328.49,180.09 L328.74,180.05 L328.99,180.01 L329.25,180.02 L329.50,180.10 L329.75,180.30 L330.00,180.61 L330.25,180.99 L330.51,181.43 L330.76,181.91 L331.01,182.40 L331.26,182.89 L331.52,183.34 L331.77,183.75 L332.02,184.12 L332.27,184.43 L332.53,184.68 L332.78,184.88 L333.03,185.03 L333.29,185.14 L333.54,185.21 L333.79,185.25 L334.04,185.26 L334.30,185.24 L334.55,185.20 L334.80,185.13 L335.05,185.04 L335.31,184.91 L335.56,184.75 L335.81,184.54 L336.06,184.29 L336.31,183.97 L336.57,183.59 L336.82,183.13 L337.07,182.59 L337.32,181.94 L337.58,181.19 L337.83,180.31 L338.08,179.30 L338.33,178.15 L338.59,176.86 L338.84,175.42 L339.09,173.83 L339.35,172.10 L339.60,170.23 L339.85,168.24 L340.10,166.15 L340.36,163.97 L340.61,161.75 L340.86,159.51 L341.11,157.30 L341.37,155.16 L341.62,153.13 L341.87,151.27 L342.12,149.61 L342.38,148.22 L342.63,147.12 L342.88,146.38 L343.13,146.02 L343.38,146.13 L343.64,146.68 L343.89,147.59 L344.14,148.83 L344.39,150.35 L344.65,152.11 L344.90,154.06 L345.15,156.15 L345.40,158.33 L345.66,160.55 L345.91,162.79 L346.16,164.99 L346.42,167.13 L346.67,169.18 L346.92,171.12 L347.17,172.92 L347.43,174.59 L347.68,176.11 L347.93,177.48 L348.18,178.71 L348.44,179.79 L348.69,180.73 L348.94,181.55 L349.19,182.26 L349.44,182.85 L349.70,183.36 L349.95,183.78 L350.20,184.13 L350.45,184.41 L350.71,184.65 L350.96,184.84 L351.21,184.99 L351.47,185.10 L351.72,185.20 L351.97,185.27 L352.22,185.33 L352.48,185.37 L352.48,185.50" fill="#b8a08a" stroke="#6a5646" stroke-width="0.55"/>
<line x1="335.4" y1="159.5" x2="352.2" y2="159.5" stroke="#111" stroke-width="1.0"/>
<text x="324.6" y="156.1" font-size="6.4" textLength="12.8" lengthAdjust="spacingAndGlyphs" fill="#231F20" stroke="#231F20" stroke-width="0.08">87.3</text>
<rect x="28.5" y="214.5" width="63.0" height="64.0" fill="#fff" stroke="#4a4a4a" stroke-width="0.9" rx="0"/>
<path d="M28.2,274.6h1.1M32.3,278.8v-1.1M28.2,272.4h1.1M34.5,278.8v-1.1M28.2,270.8h1.1M36.1,278.8v-1.1M28.2,269.6h1.1M37.3,278.8v-1.1M28.2,268.5h1.1M38.3,278.8v-1.1M28.2,267.7h1.1M39.1,278.8v-1.1M28.2,266.9h1.1M39.9,278.8v-1.1M28.2,266.3h1.1M40.5,278.8v-1.1M28.2,265.7h1.6M41.1,278.8v-1.6M28.2,261.8h1.1M44.9,278.8v-1.1M28.2,259.6h1.1M47.1,278.8v-1.1M28.2,258.0h1.1M48.7,278.8v-1.1M28.2,256.8h1.1M49.9,278.8v-1.1M28.2,255.7h1.1M50.9,278.8v-1.1M28.2,254.9h1.1M51.7,278.8v-1.1M28.2,254.1h1.1M52.5,278.8v-1.1M28.2,253.5h1.1M53.1,278.8v-1.1M28.2,252.9h1.6M53.7,278.8v-1.6M28.2,249.0h1.1M57.5,278.8v-1.1M28.2,246.8h1.1M59.7,278.8v-1.1M28.2,245.2h1.1M61.3,278.8v-1.1M28.2,244.0h1.1M62.5,278.8v-1.1M28.2,242.9h1.1M63.5,278.8v-1.1M28.2,242.1h1.1M64.3,278.8v-1.1M28.2,241.3h1.1M65.1,278.8v-1.1M28.2,240.7h1.1M65.7,278.8v-1.1M28.2,240.1h1.6M66.3,278.8v-1.6M28.2,236.2h1.1M70.1,278.8v-1.1M28.2,234.0h1.1M72.3,278.8v-1.1M28.2,232.4h1.1M73.9,278.8v-1.1M28.2,231.2h1.1M75.1,278.8v-1.1M28.2,230.1h1.1M76.1,278.8v-1.1M28.2,229.3h1.1M76.9,278.8v-1.1M28.2,228.5h1.1M77.7,278.8v-1.1M28.2,227.9h1.1M78.3,278.8v-1.1M28.2,227.3h1.6M78.9,278.8v-1.6M28.2,223.4h1.1M82.7,278.8v-1.1M28.2,221.2h1.1M84.9,278.8v-1.1M28.2,219.6h1.1M86.5,278.8v-1.1M28.2,218.4h1.1M87.7,278.8v-1.1M28.2,217.3h1.1M88.7,278.8v-1.1M28.2,216.5h1.1M89.5,278.8v-1.1M28.2,215.7h1.1M90.3,278.8v-1.1" stroke="#333" stroke-width="0.45" fill="none"/>
<path d="M28.5,214.5V278.5H91.5" stroke="#222" stroke-width="1.0" fill="none"/>
<text x="35" y="224.4" font-size="6.8" textLength="13" lengthAdjust="spacingAndGlyphs" fill="#231F20" stroke="#231F20" stroke-width="0.08">SEM</text>
<g transform="rotate(-35 69.6 242.5)" filter="url(#bl)">
<ellipse cx="69.6" cy="242.5" rx="5.9799999999999995" ry="5.4" fill="#c0c8ff" opacity="0.5"/>
<ellipse cx="69.6" cy="242.5" rx="4.6" ry="4.0" fill="#3646c8"/>
<ellipse cx="69.6" cy="242.5" rx="3.5879999999999996" ry="2.96" fill="#2f7fd8"/>
<ellipse cx="69.8" cy="242.4" rx="2.53" ry="2.0" fill="#3cc44c"/>
</g>
<rect x="102.5" y="214.5" width="64.0" height="64.0" fill="#fff" stroke="#4a4a4a" stroke-width="0.9" rx="0"/>
<path d="M102.2,274.6h1.1M106.4,278.8v-1.1M102.2,272.4h1.1M108.6,278.8v-1.1M102.2,270.8h1.1M110.2,278.8v-1.1M102.2,269.6h1.1M111.4,278.8v-1.1M102.2,268.5h1.1M112.5,278.8v-1.1M102.2,267.7h1.1M113.3,278.8v-1.1M102.2,266.9h1.1M114.1,278.8v-1.1M102.2,266.3h1.1M114.7,278.8v-1.1M102.2,265.7h1.6M115.3,278.8v-1.6M102.2,261.8h1.1M119.2,278.8v-1.1M102.2,259.6h1.1M121.4,278.8v-1.1M102.2,258.0h1.1M123.0,278.8v-1.1M102.2,256.8h1.1M124.2,278.8v-1.1M102.2,255.7h1.1M125.3,278.8v-1.1M102.2,254.9h1.1M126.1,278.8v-1.1M102.2,254.1h1.1M126.9,278.8v-1.1M102.2,253.5h1.1M127.5,278.8v-1.1M102.2,252.9h1.6M128.1,278.8v-1.6M102.2,249.0h1.1M132.0,278.8v-1.1M102.2,246.8h1.1M134.2,278.8v-1.1M102.2,245.2h1.1M135.8,278.8v-1.1M102.2,244.0h1.1M137.0,278.8v-1.1M102.2,242.9h1.1M138.1,278.8v-1.1M102.2,242.1h1.1M138.9,278.8v-1.1M102.2,241.3h1.1M139.7,278.8v-1.1M102.2,240.7h1.1M140.3,278.8v-1.1M102.2,240.1h1.6M140.9,278.8v-1.6M102.2,236.2h1.1M144.8,278.8v-1.1M102.2,234.0h1.1M147.0,278.8v-1.1M102.2,232.4h1.1M148.6,278.8v-1.1M102.2,231.2h1.1M149.8,278.8v-1.1M102.2,230.1h1.1M150.9,278.8v-1.1M102.2,229.3h1.1M151.7,278.8v-1.1M102.2,228.5h1.1M152.5,278.8v-1.1M102.2,227.9h1.1M153.1,278.8v-1.1M102.2,227.3h1.6M153.7,278.8v-1.6M102.2,223.4h1.1M157.6,278.8v-1.1M102.2,221.2h1.1M159.8,278.8v-1.1M102.2,219.6h1.1M161.4,278.8v-1.1M102.2,218.4h1.1M162.6,278.8v-1.1M102.2,217.3h1.1M163.7,278.8v-1.1M102.2,216.5h1.1M164.5,278.8v-1.1M102.2,215.7h1.1M165.3,278.8v-1.1" stroke="#333" stroke-width="0.45" fill="none"/>
<path d="M102.5,214.5V278.5H166.5" stroke="#222" stroke-width="1.0" fill="none"/>
<text x="109.7" y="224.4" font-size="6.8" textLength="35.5" lengthAdjust="spacingAndGlyphs" fill="#231F20" stroke="#231F20" stroke-width="0.08">SEM CD19–</text>
<g transform="rotate(-35 141.4 267.7)" filter="url(#bl)">
<ellipse cx="141.4" cy="267.7" rx="5.9799999999999995" ry="5.4" fill="#c0c8ff" opacity="0.5"/>
<ellipse cx="141.4" cy="267.7" rx="4.6" ry="4.0" fill="#3646c8"/>
<ellipse cx="141.4" cy="267.7" rx="3.5879999999999996" ry="2.96" fill="#2f7fd8"/>
<ellipse cx="141.6" cy="267.59999999999997" rx="2.53" ry="2.0" fill="#3cc44c"/>
</g>
<rect x="176.5" y="214.5" width="64.0" height="64.0" fill="#fff" stroke="#4a4a4a" stroke-width="0.9" rx="0"/>
<path d="M176.2,274.6h1.1M180.4,278.8v-1.1M176.2,272.4h1.1M182.6,278.8v-1.1M176.2,270.8h1.1M184.2,278.8v-1.1M176.2,269.6h1.1M185.4,278.8v-1.1M176.2,268.5h1.1M186.5,278.8v-1.1M176.2,267.7h1.1M187.3,278.8v-1.1M176.2,266.9h1.1M188.1,278.8v-1.1M176.2,266.3h1.1M188.7,278.8v-1.1M176.2,265.7h1.6M189.3,278.8v-1.6M176.2,261.8h1.1M193.2,278.8v-1.1M176.2,259.6h1.1M195.4,278.8v-1.1M176.2,258.0h1.1M197.0,278.8v-1.1M176.2,256.8h1.1M198.2,278.8v-1.1M176.2,255.7h1.1M199.3,278.8v-1.1M176.2,254.9h1.1M200.1,278.8v-1.1M176.2,254.1h1.1M200.9,278.8v-1.1M176.2,253.5h1.1M201.5,278.8v-1.1M176.2,252.9h1.6M202.1,278.8v-1.6M176.2,249.0h1.1M206.0,278.8v-1.1M176.2,246.8h1.1M208.2,278.8v-1.1M176.2,245.2h1.1M209.8,278.8v-1.1M176.2,244.0h1.1M211.0,278.8v-1.1M176.2,242.9h1.1M212.1,278.8v-1.1M176.2,242.1h1.1M212.9,278.8v-1.1M176.2,241.3h1.1M213.7,278.8v-1.1M176.2,240.7h1.1M214.3,278.8v-1.1M176.2,240.1h1.6M214.9,278.8v-1.6M176.2,236.2h1.1M218.8,278.8v-1.1M176.2,234.0h1.1M221.0,278.8v-1.1M176.2,232.4h1.1M222.6,278.8v-1.1M176.2,231.2h1.1M223.8,278.8v-1.1M176.2,230.1h1.1M224.9,278.8v-1.1M176.2,229.3h1.1M225.7,278.8v-1.1M176.2,228.5h1.1M226.5,278.8v-1.1M176.2,227.9h1.1M227.1,278.8v-1.1M176.2,227.3h1.6M227.7,278.8v-1.6M176.2,223.4h1.1M231.6,278.8v-1.1M176.2,221.2h1.1M233.8,278.8v-1.1M176.2,219.6h1.1M235.4,278.8v-1.1M176.2,218.4h1.1M236.6,278.8v-1.1M176.2,217.3h1.1M237.7,278.8v-1.1M176.2,216.5h1.1M238.5,278.8v-1.1M176.2,215.7h1.1M239.3,278.8v-1.1" stroke="#333" stroke-width="0.45" fill="none"/>
<path d="M176.5,214.5V278.5H240.5" stroke="#222" stroke-width="1.0" fill="none"/>
<text x="180.7" y="224.4" font-size="6.8" textLength="39.5" lengthAdjust="spacingAndGlyphs" fill="#231F20" stroke="#231F20" stroke-width="0.08">SEM CD133–</text>
<g transform="rotate(-35 189.9 241.3)" filter="url(#bl)">
<ellipse cx="189.9" cy="241.3" rx="5.9799999999999995" ry="5.4" fill="#c0c8ff" opacity="0.5"/>
<ellipse cx="189.9" cy="241.3" rx="4.6" ry="4.0" fill="#3646c8"/>
<ellipse cx="189.9" cy="241.3" rx="3.5879999999999996" ry="2.96" fill="#2f7fd8"/>
<ellipse cx="190.1" cy="241.20000000000002" rx="2.53" ry="2.0" fill="#3cc44c"/>
</g>
<rect x="251.5" y="214.5" width="63.0" height="64.0" fill="#fff" stroke="#4a4a4a" stroke-width="0.9" rx="0"/>
<path d="M251.2,274.6h1.1M255.3,278.8v-1.1M251.2,272.4h1.1M257.5,278.8v-1.1M251.2,270.8h1.1M259.1,278.8v-1.1M251.2,269.6h1.1M260.3,278.8v-1.1M251.2,268.5h1.1M261.3,278.8v-1.1M251.2,267.7h1.1M262.1,278.8v-1.1M251.2,266.9h1.1M262.9,278.8v-1.1M251.2,266.3h1.1M263.5,278.8v-1.1M251.2,265.7h1.6M264.1,278.8v-1.6M251.2,261.8h1.1M267.9,278.8v-1.1M251.2,259.6h1.1M270.1,278.8v-1.1M251.2,258.0h1.1M271.7,278.8v-1.1M251.2,256.8h1.1M272.9,278.8v-1.1M251.2,255.7h1.1M273.9,278.8v-1.1M251.2,254.9h1.1M274.7,278.8v-1.1M251.2,254.1h1.1M275.5,278.8v-1.1M251.2,253.5h1.1M276.1,278.8v-1.1M251.2,252.9h1.6M276.7,278.8v-1.6M251.2,249.0h1.1M280.5,278.8v-1.1M251.2,246.8h1.1M282.7,278.8v-1.1M251.2,245.2h1.1M284.3,278.8v-1.1M251.2,244.0h1.1M285.5,278.8v-1.1M251.2,242.9h1.1M286.5,278.8v-1.1M251.2,242.1h1.1M287.3,278.8v-1.1M251.2,241.3h1.1M288.1,278.8v-1.1M251.2,240.7h1.1M288.7,278.8v-1.1M251.2,240.1h1.6M289.3,278.8v-1.6M251.2,236.2h1.1M293.1,278.8v-1.1M251.2,234.0h1.1M295.3,278.8v-1.1M251.2,232.4h1.1M296.9,278.8v-1.1M251.2,231.2h1.1M298.1,278.8v-1.1M251.2,230.1h1.1M299.1,278.8v-1.1M251.2,229.3h1.1M299.9,278.8v-1.1M251.2,228.5h1.1M300.7,278.8v-1.1M251.2,227.9h1.1M301.3,278.8v-1.1M251.2,227.3h1.6M301.9,278.8v-1.6M251.2,223.4h1.1M305.7,278.8v-1.1M251.2,221.2h1.1M307.9,278.8v-1.1M251.2,219.6h1.1M309.5,278.8v-1.1M251.2,218.4h1.1M310.7,278.8v-1.1M251.2,217.3h1.1M311.7,278.8v-1.1M251.2,216.5h1.1M312.5,278.8v-1.1M251.2,215.7h1.1M313.3,278.8v-1.1" stroke="#333" stroke-width="0.45" fill="none"/>
<path d="M251.5,214.5V278.5H314.5" stroke="#222" stroke-width="1.0" fill="none"/>
<text x="254.2" y="224.4" font-size="6.8" textLength="57.6" lengthAdjust="spacingAndGlyphs" fill="#231F20" stroke="#231F20" stroke-width="0.08">SEM CD19–CD133–</text>
<g transform="rotate(-35 265.6 267)" filter="url(#bl)">
<ellipse cx="265.6" cy="267" rx="5.9799999999999995" ry="5.4" fill="#c0c8ff" opacity="0.5"/>
<ellipse cx="265.6" cy="267" rx="4.6" ry="4.0" fill="#3646c8"/>
<ellipse cx="265.6" cy="267" rx="3.5879999999999996" ry="2.96" fill="#2f7fd8"/>
<ellipse cx="265.8" cy="266.9" rx="2.53" ry="2.0" fill="#3cc44c"/>
</g>
<text transform="translate(22.0,254.6) rotate(-90)" font-size="8.4" fill="#231F20" stroke="#231F20" stroke-width="0.12" textLength="16.9" lengthAdjust="spacingAndGlyphs">CD19</text>
<text x="47.1" y="290.8" font-size="8.8" textLength="21.2" lengthAdjust="spacingAndGlyphs" fill="#231F20" stroke="#231F20" stroke-width="0.2">CD133</text>
<line x1="71.2" y1="287.7" x2="83.6" y2="287.7" stroke="#231F20" stroke-width="0.8"/>
<path d="M85.6,287.7 L81.6,285.8 L81.6,289.6 Z" fill="#231F20"/>
<line x1="435.1" y1="34.3" x2="435.1" y2="101.3" stroke="#111" stroke-width="1.2"/>
<line x1="434.5" y1="100.7" x2="513" y2="100.7" stroke="#111" stroke-width="1.2"/>
<line x1="432.3" y1="100.7" x2="435.1" y2="100.7" stroke="#111" stroke-width="1.08"/>
<text x="430.7" y="103.184" font-size="6.9" text-anchor="end" fill="#231F20" stroke="#231F20" stroke-width="0.08">0</text>
<line x1="432.3" y1="87.53999999999999" x2="435.1" y2="87.53999999999999" stroke="#111" stroke-width="1.08"/>
<text x="430.7" y="90.02399999999999" font-size="6.9" text-anchor="end" fill="#231F20" stroke="#231F20" stroke-width="0.08">20</text>
<line x1="432.3" y1="74.38" x2="435.1" y2="74.38" stroke="#111" stroke-width="1.08"/>
<text x="430.7" y="76.86399999999999" font-size="6.9" text-anchor="end" fill="#231F20" stroke="#231F20" stroke-width="0.08">40</text>
<line x1="432.3" y1="61.21999999999999" x2="435.1" y2="61.21999999999999" stroke="#111" stroke-width="1.08"/>
<text x="430.7" y="63.70399999999999" font-size="6.9" text-anchor="end" fill="#231F20" stroke="#231F20" stroke-width="0.08">60</text>
<line x1="432.3" y1="48.05999999999999" x2="435.1" y2="48.05999999999999" stroke="#111" stroke-width="1.08"/>
<text x="430.7" y="50.54399999999999" font-size="6.9" text-anchor="end" fill="#231F20" stroke="#231F20" stroke-width="0.08">80</text>
<line x1="432.3" y1="34.89999999999999" x2="435.1" y2="34.89999999999999" stroke="#111" stroke-width="1.08"/>
<text x="430.7" y="37.38399999999999" font-size="6.9" text-anchor="end" fill="#231F20" stroke="#231F20" stroke-width="0.08">100</text>
<line x1="447.3" y1="100.7" x2="447.3" y2="103.5" stroke="#111" stroke-width="1.08"/>
<text x="447.3" y="113.2" font-size="8.0" text-anchor="middle" textLength="12.2" lengthAdjust="spacingAndGlyphs" fill="#231F20" stroke="#231F20" stroke-width="0.08">0.25</text>
<line x1="465.6" y1="100.7" x2="465.6" y2="103.5" stroke="#111" stroke-width="1.08"/>
<text x="465.6" y="113.2" font-size="8.0" text-anchor="middle" textLength="8.6" lengthAdjust="spacingAndGlyphs" fill="#231F20" stroke="#231F20" stroke-width="0.08">0.5</text>
<line x1="483.5" y1="100.7" x2="483.5" y2="103.5" stroke="#111" stroke-width="1.08"/>
<text x="483.5" y="113.2" font-size="8.0" text-anchor="middle" textLength="3.6" lengthAdjust="spacingAndGlyphs" fill="#231F20" stroke="#231F20" stroke-width="0.08">1</text>
<line x1="501.5" y1="100.7" x2="501.5" y2="103.5" stroke="#111" stroke-width="1.08"/>
<text x="501.5" y="113.2" font-size="8.0" text-anchor="middle" textLength="4.0" lengthAdjust="spacingAndGlyphs" fill="#231F20" stroke="#231F20" stroke-width="0.08">5</text>
<path d="M447.30,96.09 L465.60,93.79 L483.50,87.54 L501.50,73.39" fill="none" stroke="#c0142c" stroke-width="1.05"/>
<rect x="445.8" y="94.59400000000001" width="3.0" height="3.0" fill="#c0142c" stroke="none" stroke-width="0.8" rx="0"/>
<rect x="464.1" y="92.291" width="3.0" height="3.0" fill="#c0142c" stroke="none" stroke-width="0.8" rx="0"/>
<rect x="482.0" y="86.03999999999999" width="3.0" height="3.0" fill="#c0142c" stroke="none" stroke-width="0.8" rx="0"/>
<rect x="500.0" y="71.893" width="3.0" height="3.0" fill="#c0142c" stroke="none" stroke-width="0.8" rx="0"/>
<path d="M447.30,94.78 L465.60,92.80 L483.50,82.93 L501.50,65.96" fill="none" stroke="#f7a048" stroke-width="1.05"/>
<rect x="445.8" y="93.278" width="3.0" height="3.0" fill="#f7a048" stroke="none" stroke-width="0.8" rx="0"/>
<rect x="464.1" y="91.304" width="3.0" height="3.0" fill="#f7a048" stroke="none" stroke-width="0.8" rx="0"/>
<rect x="482.0" y="81.434" width="3.0" height="3.0" fill="#f7a048" stroke="none" stroke-width="0.8" rx="0"/>
<rect x="500.0" y="64.4576" width="3.0" height="3.0" fill="#f7a048" stroke="none" stroke-width="0.8" rx="0"/>
<path d="M447.30,90.83 L465.60,84.91 L483.50,77.01 L501.50,48.72" fill="none" stroke="#33204f" stroke-width="1.05"/>
<rect x="445.8" y="89.33" width="3.0" height="3.0" fill="#33204f" stroke="none" stroke-width="0.8" rx="0"/>
<rect x="464.1" y="83.408" width="3.0" height="3.0" fill="#33204f" stroke="none" stroke-width="0.8" rx="0"/>
<rect x="482.0" y="75.512" width="3.0" height="3.0" fill="#33204f" stroke="none" stroke-width="0.8" rx="0"/>
<rect x="500.0" y="47.21799999999999" width="3.0" height="3.0" fill="#33204f" stroke="none" stroke-width="0.8" rx="0"/>
<text transform="translate(412.7,65) rotate(-90)" font-size="8.6" text-anchor="middle" fill="#231F20" stroke="#231F20" stroke-width="0.08" textLength="50.5" lengthAdjust="spacingAndGlyphs">Cytotoxicity (%)</text>
<text x="473.6" y="125" font-size="8.8" text-anchor="middle" textLength="23.6" lengthAdjust="spacingAndGlyphs" fill="#231F20" stroke="#231F20" stroke-width="0.2">E:T ratio</text>
<text x="458.2" y="27.2" font-size="9.0" textLength="31.8" lengthAdjust="spacingAndGlyphs" fill="#231F20" stroke="#231F20" stroke-width="0.2">SEM 4hr</text>
<line x1="438" y1="37.7" x2="443" y2="37.7" stroke="#c0142c" stroke-width="0.9"/>
<rect x="439.15" y="36.45" width="2.5" height="2.5" fill="#c0142c" stroke="none" stroke-width="0.8" rx="0"/>
<text x="445.7" y="40.0" font-size="6.6" textLength="48.5" lengthAdjust="spacingAndGlyphs" fill="#231F20" stroke="#231F20" stroke-width="0.08">CD19 CAR-iNKT</text>
<line x1="438" y1="46.0" x2="443" y2="46.0" stroke="#f7a048" stroke-width="0.9"/>
<rect x="439.15" y="44.75" width="2.5" height="2.5" fill="#f7a048" stroke="none" stroke-width="0.8" rx="0"/>
<text x="445.7" y="48.3" font-size="6.6" textLength="52.5" lengthAdjust="spacingAndGlyphs" fill="#231F20" stroke="#231F20" stroke-width="0.08">CD133 CAR-iNKT</text>
<line x1="438" y1="54.5" x2="443" y2="54.5" stroke="#33204f" stroke-width="0.9"/>
<rect x="439.15" y="53.25" width="2.5" height="2.5" fill="#33204f" stroke="none" stroke-width="0.8" rx="0"/>
<text x="445.7" y="56.8" font-size="6.6" textLength="45.5" lengthAdjust="spacingAndGlyphs" fill="#231F20" stroke="#231F20" stroke-width="0.08">CD19–CD133</text>
<text x="445.7" y="64.9" font-size="6.6" textLength="30" lengthAdjust="spacingAndGlyphs" fill="#231F20" stroke="#231F20" stroke-width="0.08">CAR-iNKT</text>
<line x1="435.1" y1="156.0" x2="435.1" y2="222.5" stroke="#111" stroke-width="1.2"/>
<line x1="434.5" y1="221.9" x2="513" y2="221.9" stroke="#111" stroke-width="1.2"/>
<line x1="432.3" y1="221.9" x2="435.1" y2="221.9" stroke="#111" stroke-width="1.08"/>
<text x="430.7" y="224.38400000000001" font-size="6.9" text-anchor="end" fill="#231F20" stroke="#231F20" stroke-width="0.08">0</text>
<line x1="432.3" y1="208.84" x2="435.1" y2="208.84" stroke="#111" stroke-width="1.08"/>
<text x="430.7" y="211.324" font-size="6.9" text-anchor="end" fill="#231F20" stroke="#231F20" stroke-width="0.08">20</text>
<line x1="432.3" y1="195.78" x2="435.1" y2="195.78" stroke="#111" stroke-width="1.08"/>
<text x="430.7" y="198.264" font-size="6.9" text-anchor="end" fill="#231F20" stroke="#231F20" stroke-width="0.08">40</text>
<line x1="432.3" y1="182.72" x2="435.1" y2="182.72" stroke="#111" stroke-width="1.08"/>
<text x="430.7" y="185.204" font-size="6.9" text-anchor="end" fill="#231F20" stroke="#231F20" stroke-width="0.08">60</text>
<line x1="432.3" y1="169.66" x2="435.1" y2="169.66" stroke="#111" stroke-width="1.08"/>
<text x="430.7" y="172.144" font-size="6.9" text-anchor="end" fill="#231F20" stroke="#231F20" stroke-width="0.08">80</text>
<line x1="432.3" y1="156.6" x2="435.1" y2="156.6" stroke="#111" stroke-width="1.08"/>
<text x="430.7" y="159.084" font-size="6.9" text-anchor="end" fill="#231F20" stroke="#231F20" stroke-width="0.08">100</text>
<line x1="447.3" y1="221.9" x2="447.3" y2="224.70000000000002" stroke="#111" stroke-width="1.08"/>
<text x="447.3" y="234.8" font-size="8.0" text-anchor="middle" textLength="12.2" lengthAdjust="spacingAndGlyphs" fill="#231F20" stroke="#231F20" stroke-width="0.08">0.25</text>
<line x1="465.6" y1="221.9" x2="465.6" y2="224.70000000000002" stroke="#111" stroke-width="1.08"/>
<text x="465.6" y="234.8" font-size="8.0" text-anchor="middle" textLength="8.6" lengthAdjust="spacingAndGlyphs" fill="#231F20" stroke="#231F20" stroke-width="0.08">0.5</text>
<line x1="483.5" y1="221.9" x2="483.5" y2="224.70000000000002" stroke="#111" stroke-width="1.08"/>
<text x="483.5" y="234.8" font-size="8.0" text-anchor="middle" textLength="3.6" lengthAdjust="spacingAndGlyphs" fill="#231F20" stroke="#231F20" stroke-width="0.08">1</text>
<line x1="501.5" y1="221.9" x2="501.5" y2="224.70000000000002" stroke="#111" stroke-width="1.08"/>
<text x="501.5" y="234.8" font-size="8.0" text-anchor="middle" textLength="4.0" lengthAdjust="spacingAndGlyphs" fill="#231F20" stroke="#231F20" stroke-width="0.08">5</text>
<path d="M447.30,195.13 L465.60,183.70 L483.50,171.62 L501.50,163.78" fill="none" stroke="#c0142c" stroke-width="1.05"/>
<rect x="445.8" y="193.627" width="3.0" height="3.0" fill="#c0142c" stroke="none" stroke-width="0.8" rx="0"/>
<rect x="464.1" y="182.1995" width="3.0" height="3.0" fill="#c0142c" stroke="none" stroke-width="0.8" rx="0"/>
<rect x="482.0" y="170.119" width="3.0" height="3.0" fill="#c0142c" stroke="none" stroke-width="0.8" rx="0"/>
<rect x="500.0" y="162.283" width="3.0" height="3.0" fill="#c0142c" stroke="none" stroke-width="0.8" rx="0"/>
<path d="M447.30,181.09 L465.60,175.54 L483.50,165.74 L501.50,161.82" fill="none" stroke="#f7a048" stroke-width="1.05"/>
<rect x="445.8" y="179.5875" width="3.0" height="3.0" fill="#f7a048" stroke="none" stroke-width="0.8" rx="0"/>
<rect x="464.1" y="174.037" width="3.0" height="3.0" fill="#f7a048" stroke="none" stroke-width="0.8" rx="0"/>
<rect x="482.0" y="164.242" width="3.0" height="3.0" fill="#f7a048" stroke="none" stroke-width="0.8" rx="0"/>
<rect x="500.0" y="160.32399999999998" width="3.0" height="3.0" fill="#f7a048" stroke="none" stroke-width="0.8" rx="0"/>
<path d="M447.30,165.74 L465.60,161.82 L483.50,159.21 L501.50,158.23" fill="none" stroke="#33204f" stroke-width="1.05"/>
<rect x="445.8" y="164.242" width="3.0" height="3.0" fill="#33204f" stroke="none" stroke-width="0.8" rx="0"/>
<rect x="464.1" y="160.32399999999998" width="3.0" height="3.0" fill="#33204f" stroke="none" stroke-width="0.8" rx="0"/>
<rect x="482.0" y="157.712" width="3.0" height="3.0" fill="#33204f" stroke="none" stroke-width="0.8" rx="0"/>
<rect x="500.0" y="156.7325" width="3.0" height="3.0" fill="#33204f" stroke="none" stroke-width="0.8" rx="0"/>
<text transform="translate(412.9,187.3) rotate(-90)" font-size="8.6" text-anchor="middle" fill="#231F20" stroke="#231F20" stroke-width="0.08" textLength="50.5" lengthAdjust="spacingAndGlyphs">Cytotoxicity (%)</text>
<text x="474" y="246.6" font-size="8.8" text-anchor="middle" textLength="23.6" lengthAdjust="spacingAndGlyphs" fill="#231F20" stroke="#231F20" stroke-width="0.2">E:T ratio</text>
<text x="455.4" y="149.2" font-size="9.0" textLength="38.1" lengthAdjust="spacingAndGlyphs" fill="#231F20" stroke="#231F20" stroke-width="0.2">SEM 24hr</text>
<line x1="36.1" y1="323.0" x2="36.1" y2="385.0" stroke="#111" stroke-width="1.2"/>
<line x1="35.5" y1="384.4" x2="111.0" y2="384.4" stroke="#111" stroke-width="1.2"/>
<line x1="33.6" y1="384.4" x2="36.1" y2="384.4" stroke="#111" stroke-width="1.08"/>
<text x="30.1" y="386.84799999999996" font-size="6.8" text-anchor="end" fill="#231F20" stroke="#231F20" stroke-width="0.08">0</text>
<line x1="33.6" y1="364.1333333333333" x2="36.1" y2="364.1333333333333" stroke="#111" stroke-width="1.08"/>
<text x="30.1" y="366.5813333333333" font-size="6.8" text-anchor="end" fill="#231F20" stroke="#231F20" stroke-width="0.08">20</text>
<line x1="33.6" y1="343.8666666666667" x2="36.1" y2="343.8666666666667" stroke="#111" stroke-width="1.08"/>
<text x="30.1" y="346.31466666666665" font-size="6.8" text-anchor="end" fill="#231F20" stroke="#231F20" stroke-width="0.08">40</text>
<line x1="33.6" y1="323.6" x2="36.1" y2="323.6" stroke="#111" stroke-width="1.08"/>
<text x="30.1" y="326.048" font-size="6.8" text-anchor="end" fill="#231F20" stroke="#231F20" stroke-width="0.08">60</text>
<line x1="46.6" y1="384.4" x2="46.6" y2="386.9" stroke="#111" stroke-width="1.08"/>
<text x="46.6" y="395.4" font-size="7.2" text-anchor="middle" textLength="12.4" lengthAdjust="spacingAndGlyphs" fill="#231F20" stroke="#231F20" stroke-width="0.08">0.65</text>
<line x1="66.6" y1="384.4" x2="66.6" y2="386.9" stroke="#111" stroke-width="1.08"/>
<text x="66.6" y="395.4" font-size="7.2" text-anchor="middle" textLength="12.4" lengthAdjust="spacingAndGlyphs" fill="#231F20" stroke="#231F20" stroke-width="0.08">1.30</text>
<line x1="86.7" y1="384.4" x2="86.7" y2="386.9" stroke="#111" stroke-width="1.08"/>
<text x="86.7" y="395.4" font-size="7.2" text-anchor="middle" textLength="12.4" lengthAdjust="spacingAndGlyphs" fill="#231F20" stroke="#231F20" stroke-width="0.08">2.50</text>
<line x1="106.8" y1="384.4" x2="106.8" y2="386.9" stroke="#111" stroke-width="1.08"/>
<text x="106.8" y="395.4" font-size="7.2" text-anchor="middle" textLength="12.4" lengthAdjust="spacingAndGlyphs" fill="#231F20" stroke="#231F20" stroke-width="0.08">5.00</text>
<path d="M46.60,378.83 L66.60,373.25 L86.70,365.15 L106.80,356.03" fill="none" stroke="#f39a26" stroke-width="1.05"/>
<line x1="66.6" y1="371.73333333333335" x2="66.6" y2="374.7733333333333" stroke="#f39a26" stroke-width="0.6"/>
<line x1="65.5" y1="371.73333333333335" x2="67.69999999999999" y2="371.73333333333335" stroke="#f39a26" stroke-width="0.6"/>
<line x1="65.5" y1="374.7733333333333" x2="67.69999999999999" y2="374.7733333333333" stroke="#f39a26" stroke-width="0.6"/>
<line x1="86.7" y1="362.61333333333334" x2="86.7" y2="367.68" stroke="#f39a26" stroke-width="0.6"/>
<line x1="85.60000000000001" y1="362.61333333333334" x2="87.8" y2="362.61333333333334" stroke="#f39a26" stroke-width="0.6"/>
<line x1="85.60000000000001" y1="367.68" x2="87.8" y2="367.68" stroke="#f39a26" stroke-width="0.6"/>
<line x1="106.8" y1="354.0" x2="106.8" y2="358.05333333333334" stroke="#f39a26" stroke-width="0.6"/>
<line x1="105.7" y1="354.0" x2="107.89999999999999" y2="354.0" stroke="#f39a26" stroke-width="0.6"/>
<line x1="105.7" y1="358.05333333333334" x2="107.89999999999999" y2="358.05333333333334" stroke="#f39a26" stroke-width="0.6"/>
<rect x="44.85" y="377.07666666666665" width="3.5" height="3.5" fill="#f39a26" stroke="none" stroke-width="0.8" rx="0"/>
<rect x="64.85" y="371.50333333333333" width="3.5" height="3.5" fill="#f39a26" stroke="none" stroke-width="0.8" rx="0"/>
<rect x="84.95" y="363.39666666666665" width="3.5" height="3.5" fill="#f39a26" stroke="none" stroke-width="0.8" rx="0"/>
<rect x="105.05" y="354.27666666666664" width="3.5" height="3.5" fill="#f39a26" stroke="none" stroke-width="0.8" rx="0"/>
<path d="M46.60,374.77 L66.60,368.69 L86.70,360.08 L106.80,348.93" fill="none" stroke="#a8183e" stroke-width="1.05"/>
<line x1="66.6" y1="366.66666666666663" x2="66.6" y2="370.71999999999997" stroke="#a8183e" stroke-width="0.6"/>
<line x1="65.5" y1="366.66666666666663" x2="67.69999999999999" y2="366.66666666666663" stroke="#a8183e" stroke-width="0.6"/>
<line x1="65.5" y1="370.71999999999997" x2="67.69999999999999" y2="370.71999999999997" stroke="#a8183e" stroke-width="0.6"/>
<line x1="86.7" y1="358.56" x2="86.7" y2="361.6" stroke="#a8183e" stroke-width="0.6"/>
<line x1="85.60000000000001" y1="358.56" x2="87.8" y2="358.56" stroke="#a8183e" stroke-width="0.6"/>
<line x1="85.60000000000001" y1="361.6" x2="87.8" y2="361.6" stroke="#a8183e" stroke-width="0.6"/>
<line x1="106.8" y1="346.4" x2="106.8" y2="351.4666666666667" stroke="#a8183e" stroke-width="0.6"/>
<line x1="105.7" y1="346.4" x2="107.89999999999999" y2="346.4" stroke="#a8183e" stroke-width="0.6"/>
<line x1="105.7" y1="351.4666666666667" x2="107.89999999999999" y2="351.4666666666667" stroke="#a8183e" stroke-width="0.6"/>
<circle cx="46.6" cy="374.7733333333333" r="1.75" fill="#a8183e"/>
<circle cx="66.6" cy="368.6933333333333" r="1.75" fill="#a8183e"/>
<circle cx="86.7" cy="360.08" r="1.75" fill="#a8183e"/>
<circle cx="106.8" cy="348.93333333333334" r="1.75" fill="#a8183e"/>
<path d="M46.60,369.81 L66.60,361.40 L86.70,348.93 L106.80,330.09" fill="none" stroke="#42235f" stroke-width="1.05"/>
<line x1="86.7" y1="347.41333333333336" x2="86.7" y2="350.4533333333333" stroke="#42235f" stroke-width="0.6"/>
<line x1="85.60000000000001" y1="347.41333333333336" x2="87.8" y2="347.41333333333336" stroke="#42235f" stroke-width="0.6"/>
<line x1="85.60000000000001" y1="350.4533333333333" x2="87.8" y2="350.4533333333333" stroke="#42235f" stroke-width="0.6"/>
<line x1="106.8" y1="327.552" x2="106.8" y2="332.6186666666667" stroke="#42235f" stroke-width="0.6"/>
<line x1="105.7" y1="327.552" x2="107.89999999999999" y2="327.552" stroke="#42235f" stroke-width="0.6"/>
<line x1="105.7" y1="332.6186666666667" x2="107.89999999999999" y2="332.6186666666667" stroke="#42235f" stroke-width="0.6"/>
<path d="M46.6,367.6205 L48.7,371.383 L44.5,371.383 Z" fill="#42235f"/>
<path d="M66.6,359.20983333333334 L68.69999999999999,362.9723333333333 L64.5,362.9723333333333 Z" fill="#42235f"/>
<path d="M86.7,346.74583333333334 L88.8,350.5083333333333 L84.60000000000001,350.5083333333333 Z" fill="#42235f"/>
<path d="M106.8,327.8978333333333 L108.89999999999999,331.6603333333333 L104.7,331.6603333333333 Z" fill="#42235f"/>
<text transform="translate(18.3,352.5) rotate(-90)" font-size="8.2" text-anchor="middle" fill="#231F20" stroke="#231F20" stroke-width="0.08" textLength="46.5" lengthAdjust="spacingAndGlyphs">Cytotoxicity (%)</text>
<text x="74.05" y="407.7" font-size="8.6" text-anchor="middle" textLength="24" lengthAdjust="spacingAndGlyphs" fill="#231F20" stroke="#231F20" stroke-width="0.2">E:T ratio</text>
<line x1="153.5" y1="323.0" x2="153.5" y2="385.0" stroke="#111" stroke-width="1.2"/>
<line x1="152.9" y1="384.4" x2="226.8" y2="384.4" stroke="#111" stroke-width="1.2"/>
<line x1="151.0" y1="384.4" x2="153.5" y2="384.4" stroke="#111" stroke-width="1.08"/>
<text x="147.5" y="386.84799999999996" font-size="6.8" text-anchor="end" fill="#231F20" stroke="#231F20" stroke-width="0.08">0</text>
<line x1="151.0" y1="364.1333333333333" x2="153.5" y2="364.1333333333333" stroke="#111" stroke-width="1.08"/>
<text x="147.5" y="366.5813333333333" font-size="6.8" text-anchor="end" fill="#231F20" stroke="#231F20" stroke-width="0.08">20</text>
<line x1="151.0" y1="343.8666666666667" x2="153.5" y2="343.8666666666667" stroke="#111" stroke-width="1.08"/>
<text x="147.5" y="346.31466666666665" font-size="6.8" text-anchor="end" fill="#231F20" stroke="#231F20" stroke-width="0.08">40</text>
<line x1="151.0" y1="323.6" x2="153.5" y2="323.6" stroke="#111" stroke-width="1.08"/>
<text x="147.5" y="326.048" font-size="6.8" text-anchor="end" fill="#231F20" stroke="#231F20" stroke-width="0.08">60</text>
<line x1="164" y1="384.4" x2="164" y2="386.9" stroke="#111" stroke-width="1.08"/>
<text x="164" y="395.4" font-size="7.2" text-anchor="middle" textLength="12.4" lengthAdjust="spacingAndGlyphs" fill="#231F20" stroke="#231F20" stroke-width="0.08">0.65</text>
<line x1="184" y1="384.4" x2="184" y2="386.9" stroke="#111" stroke-width="1.08"/>
<text x="184" y="395.4" font-size="7.2" text-anchor="middle" textLength="12.4" lengthAdjust="spacingAndGlyphs" fill="#231F20" stroke="#231F20" stroke-width="0.08">1.30</text>
<line x1="204" y1="384.4" x2="204" y2="386.9" stroke="#111" stroke-width="1.08"/>
<text x="204" y="395.4" font-size="7.2" text-anchor="middle" textLength="12.4" lengthAdjust="spacingAndGlyphs" fill="#231F20" stroke="#231F20" stroke-width="0.08">2.50</text>
<line x1="224" y1="384.4" x2="224" y2="386.9" stroke="#111" stroke-width="1.08"/>
<text x="224" y="395.4" font-size="7.2" text-anchor="middle" textLength="12.4" lengthAdjust="spacingAndGlyphs" fill="#231F20" stroke="#231F20" stroke-width="0.08">5.00</text>
<path d="M164.00,381.36 L184.00,378.83 L204.00,372.24 L224.00,367.17" fill="none" stroke="#f39a26" stroke-width="1.05"/>
<line x1="204" y1="370.71999999999997" x2="204" y2="373.76" stroke="#f39a26" stroke-width="0.6"/>
<line x1="202.9" y1="370.71999999999997" x2="205.1" y2="370.71999999999997" stroke="#f39a26" stroke-width="0.6"/>
<line x1="202.9" y1="373.76" x2="205.1" y2="373.76" stroke="#f39a26" stroke-width="0.6"/>
<line x1="224" y1="365.14666666666665" x2="224" y2="369.2" stroke="#f39a26" stroke-width="0.6"/>
<line x1="222.9" y1="365.14666666666665" x2="225.1" y2="365.14666666666665" stroke="#f39a26" stroke-width="0.6"/>
<line x1="222.9" y1="369.2" x2="225.1" y2="369.2" stroke="#f39a26" stroke-width="0.6"/>
<rect x="162.25" y="379.60999999999996" width="3.5" height="3.5" fill="#f39a26" stroke="none" stroke-width="0.8" rx="0"/>
<rect x="182.25" y="377.07666666666665" width="3.5" height="3.5" fill="#f39a26" stroke="none" stroke-width="0.8" rx="0"/>
<rect x="202.25" y="370.49" width="3.5" height="3.5" fill="#f39a26" stroke="none" stroke-width="0.8" rx="0"/>
<rect x="222.25" y="365.42333333333335" width="3.5" height="3.5" fill="#f39a26" stroke="none" stroke-width="0.8" rx="0"/>
<path d="M164.00,379.33 L184.00,369.20 L204.00,362.11 L224.00,350.96" fill="none" stroke="#42235f" stroke-width="1.05"/>
<line x1="184" y1="366.66666666666663" x2="184" y2="371.73333333333335" stroke="#42235f" stroke-width="0.6"/>
<line x1="182.9" y1="366.66666666666663" x2="185.1" y2="366.66666666666663" stroke="#42235f" stroke-width="0.6"/>
<line x1="182.9" y1="371.73333333333335" x2="185.1" y2="371.73333333333335" stroke="#42235f" stroke-width="0.6"/>
<line x1="204" y1="360.58666666666664" x2="204" y2="363.62666666666667" stroke="#42235f" stroke-width="0.6"/>
<line x1="202.9" y1="360.58666666666664" x2="205.1" y2="360.58666666666664" stroke="#42235f" stroke-width="0.6"/>
<line x1="202.9" y1="363.62666666666667" x2="205.1" y2="363.62666666666667" stroke="#42235f" stroke-width="0.6"/>
<line x1="224" y1="348.4266666666667" x2="224" y2="353.49333333333334" stroke="#42235f" stroke-width="0.6"/>
<line x1="222.9" y1="348.4266666666667" x2="225.1" y2="348.4266666666667" stroke="#42235f" stroke-width="0.6"/>
<line x1="222.9" y1="353.49333333333334" x2="225.1" y2="353.49333333333334" stroke="#42235f" stroke-width="0.6"/>
<path d="M164,377.1458333333333 L166.1,380.9083333333333 L161.9,380.9083333333333 Z" fill="#42235f"/>
<path d="M184,367.0125 L186.1,370.775 L181.9,370.775 Z" fill="#42235f"/>
<path d="M204,359.9191666666667 L206.1,363.6816666666667 L201.9,363.6816666666667 Z" fill="#42235f"/>
<path d="M224,348.7725 L226.1,352.53499999999997 L221.9,352.53499999999997 Z" fill="#42235f"/>
<path d="M164.00,379.33 L184.00,368.19 L204.00,361.09 L224.00,348.93" fill="none" stroke="#a8183e" stroke-width="1.05"/>
<line x1="184" y1="365.6533333333333" x2="184" y2="370.71999999999997" stroke="#a8183e" stroke-width="0.6"/>
<line x1="182.9" y1="365.6533333333333" x2="185.1" y2="365.6533333333333" stroke="#a8183e" stroke-width="0.6"/>
<line x1="182.9" y1="370.71999999999997" x2="185.1" y2="370.71999999999997" stroke="#a8183e" stroke-width="0.6"/>
<line x1="204" y1="359.5733333333333" x2="204" y2="362.61333333333334" stroke="#a8183e" stroke-width="0.6"/>
<line x1="202.9" y1="359.5733333333333" x2="205.1" y2="359.5733333333333" stroke="#a8183e" stroke-width="0.6"/>
<line x1="202.9" y1="362.61333333333334" x2="205.1" y2="362.61333333333334" stroke="#a8183e" stroke-width="0.6"/>
<line x1="224" y1="346.4" x2="224" y2="351.4666666666667" stroke="#a8183e" stroke-width="0.6"/>
<line x1="222.9" y1="346.4" x2="225.1" y2="346.4" stroke="#a8183e" stroke-width="0.6"/>
<line x1="222.9" y1="351.4666666666667" x2="225.1" y2="351.4666666666667" stroke="#a8183e" stroke-width="0.6"/>
<circle cx="164" cy="379.3333333333333" r="1.75" fill="#a8183e"/>
<circle cx="184" cy="368.18666666666667" r="1.75" fill="#a8183e"/>
<circle cx="204" cy="361.0933333333333" r="1.75" fill="#a8183e"/>
<circle cx="224" cy="348.93333333333334" r="1.75" fill="#a8183e"/>
<text transform="translate(135.7,352.5) rotate(-90)" font-size="8.2" text-anchor="middle" fill="#231F20" stroke="#231F20" stroke-width="0.08" textLength="46.5" lengthAdjust="spacingAndGlyphs">Cytotoxicity (%)</text>
<text x="190.65" y="407.7" font-size="8.6" text-anchor="middle" textLength="24" lengthAdjust="spacingAndGlyphs" fill="#231F20" stroke="#231F20" stroke-width="0.2">E:T ratio</text>
<line x1="268.8" y1="323.0" x2="268.8" y2="385.0" stroke="#111" stroke-width="1.2"/>
<line x1="268.2" y1="384.4" x2="342.8" y2="384.4" stroke="#111" stroke-width="1.2"/>
<line x1="266.3" y1="384.4" x2="268.8" y2="384.4" stroke="#111" stroke-width="1.08"/>
<text x="262.8" y="386.84799999999996" font-size="6.8" text-anchor="end" fill="#231F20" stroke="#231F20" stroke-width="0.08">0</text>
<line x1="266.3" y1="364.1333333333333" x2="268.8" y2="364.1333333333333" stroke="#111" stroke-width="1.08"/>
<text x="262.8" y="366.5813333333333" font-size="6.8" text-anchor="end" fill="#231F20" stroke="#231F20" stroke-width="0.08">20</text>
<line x1="266.3" y1="343.8666666666667" x2="268.8" y2="343.8666666666667" stroke="#111" stroke-width="1.08"/>
<text x="262.8" y="346.31466666666665" font-size="6.8" text-anchor="end" fill="#231F20" stroke="#231F20" stroke-width="0.08">40</text>
<line x1="266.3" y1="323.6" x2="268.8" y2="323.6" stroke="#111" stroke-width="1.08"/>
<text x="262.8" y="326.048" font-size="6.8" text-anchor="end" fill="#231F20" stroke="#231F20" stroke-width="0.08">60</text>
<line x1="279.5" y1="384.4" x2="279.5" y2="386.9" stroke="#111" stroke-width="1.08"/>
<text x="279.5" y="395.4" font-size="7.2" text-anchor="middle" textLength="12.4" lengthAdjust="spacingAndGlyphs" fill="#231F20" stroke="#231F20" stroke-width="0.08">0.65</text>
<line x1="299.6" y1="384.4" x2="299.6" y2="386.9" stroke="#111" stroke-width="1.08"/>
<text x="299.6" y="395.4" font-size="7.2" text-anchor="middle" textLength="12.4" lengthAdjust="spacingAndGlyphs" fill="#231F20" stroke="#231F20" stroke-width="0.08">1.30</text>
<line x1="319.7" y1="384.4" x2="319.7" y2="386.9" stroke="#111" stroke-width="1.08"/>
<text x="319.7" y="395.4" font-size="7.2" text-anchor="middle" textLength="12.4" lengthAdjust="spacingAndGlyphs" fill="#231F20" stroke="#231F20" stroke-width="0.08">2.50</text>
<line x1="339.8" y1="384.4" x2="339.8" y2="386.9" stroke="#111" stroke-width="1.08"/>
<text x="339.8" y="395.4" font-size="7.2" text-anchor="middle" textLength="12.4" lengthAdjust="spacingAndGlyphs" fill="#231F20" stroke="#231F20" stroke-width="0.08">5.00</text>
<path d="M279.50,379.84 L299.60,378.32 L319.70,373.25 L339.80,368.69" fill="none" stroke="#a8183e" stroke-width="1.05"/>
<line x1="339.8" y1="366.15999999999997" x2="339.8" y2="371.22666666666663" stroke="#a8183e" stroke-width="0.6"/>
<line x1="338.7" y1="366.15999999999997" x2="340.90000000000003" y2="366.15999999999997" stroke="#a8183e" stroke-width="0.6"/>
<line x1="338.7" y1="371.22666666666663" x2="340.90000000000003" y2="371.22666666666663" stroke="#a8183e" stroke-width="0.6"/>
<circle cx="279.5" cy="379.84" r="1.75" fill="#a8183e"/>
<circle cx="299.6" cy="378.32" r="1.75" fill="#a8183e"/>
<circle cx="319.7" cy="373.25333333333333" r="1.75" fill="#a8183e"/>
<circle cx="339.8" cy="368.6933333333333" r="1.75" fill="#a8183e"/>
<path d="M279.50,378.32 L299.60,371.23 L319.70,365.15 L339.80,354.51" fill="none" stroke="#f39a26" stroke-width="1.05"/>
<line x1="279.5" y1="377.3066666666667" x2="279.5" y2="379.3333333333333" stroke="#f39a26" stroke-width="0.6"/>
<line x1="278.4" y1="377.3066666666667" x2="280.6" y2="377.3066666666667" stroke="#f39a26" stroke-width="0.6"/>
<line x1="278.4" y1="379.3333333333333" x2="280.6" y2="379.3333333333333" stroke="#f39a26" stroke-width="0.6"/>
<line x1="299.6" y1="369.70666666666665" x2="299.6" y2="372.74666666666667" stroke="#f39a26" stroke-width="0.6"/>
<line x1="298.5" y1="369.70666666666665" x2="300.70000000000005" y2="369.70666666666665" stroke="#f39a26" stroke-width="0.6"/>
<line x1="298.5" y1="372.74666666666667" x2="300.70000000000005" y2="372.74666666666667" stroke="#f39a26" stroke-width="0.6"/>
<line x1="319.7" y1="364.1333333333333" x2="319.7" y2="366.15999999999997" stroke="#f39a26" stroke-width="0.6"/>
<line x1="318.59999999999997" y1="364.1333333333333" x2="320.8" y2="364.1333333333333" stroke="#f39a26" stroke-width="0.6"/>
<line x1="318.59999999999997" y1="366.15999999999997" x2="320.8" y2="366.15999999999997" stroke="#f39a26" stroke-width="0.6"/>
<line x1="339.8" y1="352.9866666666667" x2="339.8" y2="356.02666666666664" stroke="#f39a26" stroke-width="0.6"/>
<line x1="338.7" y1="352.9866666666667" x2="340.90000000000003" y2="352.9866666666667" stroke="#f39a26" stroke-width="0.6"/>
<line x1="338.7" y1="356.02666666666664" x2="340.90000000000003" y2="356.02666666666664" stroke="#f39a26" stroke-width="0.6"/>
<rect x="277.75" y="376.57" width="3.5" height="3.5" fill="#f39a26" stroke="none" stroke-width="0.8" rx="0"/>
<rect x="297.85" y="369.47666666666663" width="3.5" height="3.5" fill="#f39a26" stroke="none" stroke-width="0.8" rx="0"/>
<rect x="317.95" y="363.39666666666665" width="3.5" height="3.5" fill="#f39a26" stroke="none" stroke-width="0.8" rx="0"/>
<rect x="338.05" y="352.75666666666666" width="3.5" height="3.5" fill="#f39a26" stroke="none" stroke-width="0.8" rx="0"/>
<path d="M279.50,375.28 L299.60,367.17 L319.70,363.12 L339.80,346.91" fill="none" stroke="#42235f" stroke-width="1.05"/>
<line x1="279.5" y1="374.26666666666665" x2="279.5" y2="376.2933333333333" stroke="#42235f" stroke-width="0.6"/>
<line x1="278.4" y1="374.26666666666665" x2="280.6" y2="374.26666666666665" stroke="#42235f" stroke-width="0.6"/>
<line x1="278.4" y1="376.2933333333333" x2="280.6" y2="376.2933333333333" stroke="#42235f" stroke-width="0.6"/>
<line x1="339.8" y1="344.37333333333333" x2="339.8" y2="349.44" stroke="#42235f" stroke-width="0.6"/>
<line x1="338.7" y1="344.37333333333333" x2="340.90000000000003" y2="344.37333333333333" stroke="#42235f" stroke-width="0.6"/>
<line x1="338.7" y1="349.44" x2="340.90000000000003" y2="349.44" stroke="#42235f" stroke-width="0.6"/>
<path d="M279.5,373.0925 L281.6,376.85499999999996 L277.4,376.85499999999996 Z" fill="#42235f"/>
<path d="M299.6,364.98583333333335 L301.70000000000005,368.74833333333333 L297.5,368.74833333333333 Z" fill="#42235f"/>
<path d="M319.7,360.9325 L321.8,364.695 L317.59999999999997,364.695 Z" fill="#42235f"/>
<path d="M339.8,344.7191666666667 L341.90000000000003,348.4816666666667 L337.7,348.4816666666667 Z" fill="#42235f"/>
<text transform="translate(251.0,352.5) rotate(-90)" font-size="8.2" text-anchor="middle" fill="#231F20" stroke="#231F20" stroke-width="0.08" textLength="46.5" lengthAdjust="spacingAndGlyphs">Cytotoxicity (%)</text>
<text x="306.3" y="407.7" font-size="8.6" text-anchor="middle" textLength="24" lengthAdjust="spacingAndGlyphs" fill="#231F20" stroke="#231F20" stroke-width="0.2">E:T ratio</text>
<line x1="385.8" y1="323.0" x2="385.8" y2="385.0" stroke="#111" stroke-width="1.2"/>
<line x1="385.2" y1="384.4" x2="460.5" y2="384.4" stroke="#111" stroke-width="1.2"/>
<line x1="383.3" y1="384.4" x2="385.8" y2="384.4" stroke="#111" stroke-width="1.08"/>
<text x="379.8" y="386.84799999999996" font-size="6.8" text-anchor="end" fill="#231F20" stroke="#231F20" stroke-width="0.08">0</text>
<line x1="383.3" y1="364.1333333333333" x2="385.8" y2="364.1333333333333" stroke="#111" stroke-width="1.08"/>
<text x="379.8" y="366.5813333333333" font-size="6.8" text-anchor="end" fill="#231F20" stroke="#231F20" stroke-width="0.08">20</text>
<line x1="383.3" y1="343.8666666666667" x2="385.8" y2="343.8666666666667" stroke="#111" stroke-width="1.08"/>
<text x="379.8" y="346.31466666666665" font-size="6.8" text-anchor="end" fill="#231F20" stroke="#231F20" stroke-width="0.08">40</text>
<line x1="383.3" y1="323.6" x2="385.8" y2="323.6" stroke="#111" stroke-width="1.08"/>
<text x="379.8" y="326.048" font-size="6.8" text-anchor="end" fill="#231F20" stroke="#231F20" stroke-width="0.08">60</text>
<line x1="396.4" y1="384.4" x2="396.4" y2="386.9" stroke="#111" stroke-width="1.08"/>
<text x="396.4" y="395.4" font-size="7.2" text-anchor="middle" textLength="12.4" lengthAdjust="spacingAndGlyphs" fill="#231F20" stroke="#231F20" stroke-width="0.08">0.65</text>
<line x1="416.6" y1="384.4" x2="416.6" y2="386.9" stroke="#111" stroke-width="1.08"/>
<text x="416.6" y="395.4" font-size="7.2" text-anchor="middle" textLength="12.4" lengthAdjust="spacingAndGlyphs" fill="#231F20" stroke="#231F20" stroke-width="0.08">1.30</text>
<line x1="436.8" y1="384.4" x2="436.8" y2="386.9" stroke="#111" stroke-width="1.08"/>
<text x="436.8" y="395.4" font-size="7.2" text-anchor="middle" textLength="12.4" lengthAdjust="spacingAndGlyphs" fill="#231F20" stroke="#231F20" stroke-width="0.08">2.50</text>
<line x1="457.0" y1="384.4" x2="457.0" y2="386.9" stroke="#111" stroke-width="1.08"/>
<text x="457.0" y="395.4" font-size="7.2" text-anchor="middle" textLength="12.4" lengthAdjust="spacingAndGlyphs" fill="#231F20" stroke="#231F20" stroke-width="0.08">5.00</text>
<path d="M396.40,379.84 L416.60,379.84 L436.80,377.81 L457.00,371.73" fill="none" stroke="#f39a26" stroke-width="1.05"/>
<line x1="457.0" y1="370.2133333333333" x2="457.0" y2="373.25333333333333" stroke="#f39a26" stroke-width="0.6"/>
<line x1="455.9" y1="370.2133333333333" x2="458.1" y2="370.2133333333333" stroke="#f39a26" stroke-width="0.6"/>
<line x1="455.9" y1="373.25333333333333" x2="458.1" y2="373.25333333333333" stroke="#f39a26" stroke-width="0.6"/>
<circle cx="396.4" cy="379.84" r="1.75" fill="#f39a26"/>
<circle cx="416.6" cy="379.84" r="1.75" fill="#f39a26"/>
<circle cx="436.8" cy="377.81333333333333" r="1.75" fill="#f39a26"/>
<circle cx="457.0" cy="371.73333333333335" r="1.75" fill="#f39a26"/>
<path d="M396.40,379.84 L416.60,378.83 L436.80,376.80 L457.00,369.20" fill="none" stroke="#42235f" stroke-width="1.05"/>
<line x1="457.0" y1="367.17333333333335" x2="457.0" y2="371.22666666666663" stroke="#42235f" stroke-width="0.6"/>
<line x1="455.9" y1="367.17333333333335" x2="458.1" y2="367.17333333333335" stroke="#42235f" stroke-width="0.6"/>
<line x1="455.9" y1="371.22666666666663" x2="458.1" y2="371.22666666666663" stroke="#42235f" stroke-width="0.6"/>
<path d="M396.4,377.6525 L398.5,381.41499999999996 L394.29999999999995,381.41499999999996 Z" fill="#42235f"/>
<path d="M416.6,376.63916666666665 L418.70000000000005,380.40166666666664 L414.5,380.40166666666664 Z" fill="#42235f"/>
<path d="M436.8,374.61249999999995 L438.90000000000003,378.37499999999994 L434.7,378.37499999999994 Z" fill="#42235f"/>
<path d="M457.0,367.0125 L459.1,370.775 L454.9,370.775 Z" fill="#42235f"/>
<path d="M396.40,379.84 L416.60,378.32 L436.80,376.29 L457.00,368.19" fill="none" stroke="#a8183e" stroke-width="1.05"/>
<line x1="416.6" y1="377.3066666666667" x2="416.6" y2="379.3333333333333" stroke="#a8183e" stroke-width="0.6"/>
<line x1="415.5" y1="377.3066666666667" x2="417.70000000000005" y2="377.3066666666667" stroke="#a8183e" stroke-width="0.6"/>
<line x1="415.5" y1="379.3333333333333" x2="417.70000000000005" y2="379.3333333333333" stroke="#a8183e" stroke-width="0.6"/>
<line x1="457.0" y1="364.1333333333333" x2="457.0" y2="372.24" stroke="#a8183e" stroke-width="0.6"/>
<line x1="455.9" y1="364.1333333333333" x2="458.1" y2="364.1333333333333" stroke="#a8183e" stroke-width="0.6"/>
<line x1="455.9" y1="372.24" x2="458.1" y2="372.24" stroke="#a8183e" stroke-width="0.6"/>
<circle cx="396.4" cy="379.84" r="1.75" fill="#a8183e"/>
<circle cx="416.6" cy="378.32" r="1.75" fill="#a8183e"/>
<circle cx="436.8" cy="376.2933333333333" r="1.75" fill="#a8183e"/>
<circle cx="457.0" cy="368.18666666666667" r="1.75" fill="#a8183e"/>
<text transform="translate(368.0,352.5) rotate(-90)" font-size="8.2" text-anchor="middle" fill="#231F20" stroke="#231F20" stroke-width="0.08" textLength="46.5" lengthAdjust="spacingAndGlyphs">Cytotoxicity (%)</text>
<text x="423.65" y="407.7" font-size="8.6" text-anchor="middle" textLength="24" lengthAdjust="spacingAndGlyphs" fill="#231F20" stroke="#231F20" stroke-width="0.2">E:T ratio</text>
<text x="57.6" y="315.6" font-size="9.4" textLength="31" lengthAdjust="spacingAndGlyphs" fill="#231F20" stroke="#231F20" stroke-width="0.2">SEM 4h</text>
<text x="161.1" y="316.6" font-size="9.4" textLength="57.4" lengthAdjust="spacingAndGlyphs" fill="#231F20" stroke="#231F20" stroke-width="0.2">SEM CD19– 4h</text>
<text x="275.5" y="316.6" font-size="9.4" textLength="61.8" lengthAdjust="spacingAndGlyphs" fill="#231F20" stroke="#231F20" stroke-width="0.2">SEM CD133– 4h</text>
<text x="379.5" y="316.8" font-size="9.4" textLength="88.9" lengthAdjust="spacingAndGlyphs" fill="#231F20" stroke="#231F20" stroke-width="0.2">SEM CD19–CD133– 4h</text>
<circle cx="394.1" cy="328.2" r="2.0" fill="#f39a26"/>
<text x="400.2" y="330.59999999999997" font-size="6.8" textLength="47.6" lengthAdjust="spacingAndGlyphs" fill="#231F20" stroke="#231F20" stroke-width="0.08">CD19 CAR-iNKT</text>
<line x1="391.2" y1="336.6" x2="396.40000000000003" y2="336.6" stroke="#a8183e" stroke-width="0.9"/>
<path d="M393.8,334.65000000000003 L395.3,336.6 L393.8,338.55 L392.3,336.6 Z" fill="#a8183e"/>
<text x="400.2" y="339.0" font-size="6.8" textLength="51.5" lengthAdjust="spacingAndGlyphs" fill="#231F20" stroke="#231F20" stroke-width="0.08">CD133 CAR-iNKT</text>
<line x1="391.2" y1="345.0" x2="396.40000000000003" y2="345.0" stroke="#42235f" stroke-width="0.9"/>
<path d="M393.8,343.125 L395.6,346.35 L392.0,346.35 Z" fill="#42235f"/>
<text x="400.2" y="347.4" font-size="6.8" textLength="44.5" lengthAdjust="spacingAndGlyphs" fill="#231F20" stroke="#231F20" stroke-width="0.08">CD133–CD19</text>
<text x="400.2" y="355.29999999999995" font-size="6.8" textLength="30" lengthAdjust="spacingAndGlyphs" fill="#231F20" stroke="#231F20" stroke-width="0.08">CAR-iNKT</text>
<line x1="34.6" y1="440.0" x2="34.6" y2="502.20000000000005" stroke="#111" stroke-width="1.2"/>
<line x1="34.0" y1="501.6" x2="110.2" y2="501.6" stroke="#111" stroke-width="1.2"/>
<line x1="32.1" y1="501.6" x2="34.6" y2="501.6" stroke="#111" stroke-width="1.08"/>
<text x="28.6" y="503.904" font-size="6.4" text-anchor="end" fill="#231F20" stroke="#231F20" stroke-width="0.08">0</text>
<line x1="32.1" y1="489.40000000000003" x2="34.6" y2="489.40000000000003" stroke="#111" stroke-width="1.08"/>
<text x="28.6" y="491.704" font-size="6.4" text-anchor="end" fill="#231F20" stroke="#231F20" stroke-width="0.08">20</text>
<line x1="32.1" y1="477.20000000000005" x2="34.6" y2="477.20000000000005" stroke="#111" stroke-width="1.08"/>
<text x="28.6" y="479.504" font-size="6.4" text-anchor="end" fill="#231F20" stroke="#231F20" stroke-width="0.08">40</text>
<line x1="32.1" y1="465.0" x2="34.6" y2="465.0" stroke="#111" stroke-width="1.08"/>
<text x="28.6" y="467.304" font-size="6.4" text-anchor="end" fill="#231F20" stroke="#231F20" stroke-width="0.08">60</text>
<line x1="32.1" y1="452.8" x2="34.6" y2="452.8" stroke="#111" stroke-width="1.08"/>
<text x="28.6" y="455.104" font-size="6.4" text-anchor="end" fill="#231F20" stroke="#231F20" stroke-width="0.08">80</text>
<line x1="32.1" y1="440.6" x2="34.6" y2="440.6" stroke="#111" stroke-width="1.08"/>
<text x="28.6" y="442.904" font-size="6.4" text-anchor="end" fill="#231F20" stroke="#231F20" stroke-width="0.08">100</text>
<line x1="43.2" y1="501.6" x2="43.2" y2="504.1" stroke="#111" stroke-width="1.08"/>
<text x="43.2" y="512.1" font-size="7.2" text-anchor="middle" textLength="12.4" lengthAdjust="spacingAndGlyphs" fill="#231F20" stroke="#231F20" stroke-width="0.08">0.33</text>
<line x1="59.2" y1="501.6" x2="59.2" y2="504.1" stroke="#111" stroke-width="1.08"/>
<text x="59.2" y="512.1" font-size="7.2" text-anchor="middle" textLength="12.4" lengthAdjust="spacingAndGlyphs" fill="#231F20" stroke="#231F20" stroke-width="0.08">0.65</text>
<line x1="75.2" y1="501.6" x2="75.2" y2="504.1" stroke="#111" stroke-width="1.08"/>
<text x="75.2" y="512.1" font-size="7.2" text-anchor="middle" textLength="12.4" lengthAdjust="spacingAndGlyphs" fill="#231F20" stroke="#231F20" stroke-width="0.08">1.30</text>
<line x1="91.2" y1="501.6" x2="91.2" y2="504.1" stroke="#111" stroke-width="1.08"/>
<text x="91.2" y="512.1" font-size="7.2" text-anchor="middle" textLength="12.4" lengthAdjust="spacingAndGlyphs" fill="#231F20" stroke="#231F20" stroke-width="0.08">2.50</text>
<line x1="107.2" y1="501.6" x2="107.2" y2="504.1" stroke="#111" stroke-width="1.08"/>
<text x="107.2" y="512.1" font-size="7.2" text-anchor="middle" textLength="12.4" lengthAdjust="spacingAndGlyphs" fill="#231F20" stroke="#231F20" stroke-width="0.08">5.00</text>
<path d="M43.20,480.86 L59.20,470.49 L75.20,455.24 L91.20,446.09 L107.20,443.04" fill="none" stroke="#f39a26" stroke-width="1.05"/>
<line x1="43.2" y1="479.94500000000005" x2="43.2" y2="481.77500000000003" stroke="#f39a26" stroke-width="0.6"/>
<line x1="42.1" y1="479.94500000000005" x2="44.300000000000004" y2="479.94500000000005" stroke="#f39a26" stroke-width="0.6"/>
<line x1="42.1" y1="481.77500000000003" x2="44.300000000000004" y2="481.77500000000003" stroke="#f39a26" stroke-width="0.6"/>
<line x1="59.2" y1="469.88" x2="59.2" y2="471.1" stroke="#f39a26" stroke-width="0.6"/>
<line x1="58.1" y1="469.88" x2="60.300000000000004" y2="469.88" stroke="#f39a26" stroke-width="0.6"/>
<line x1="58.1" y1="471.1" x2="60.300000000000004" y2="471.1" stroke="#f39a26" stroke-width="0.6"/>
<line x1="75.2" y1="454.32500000000005" x2="75.2" y2="456.15500000000003" stroke="#f39a26" stroke-width="0.6"/>
<line x1="74.10000000000001" y1="454.32500000000005" x2="76.3" y2="454.32500000000005" stroke="#f39a26" stroke-width="0.6"/>
<line x1="74.10000000000001" y1="456.15500000000003" x2="76.3" y2="456.15500000000003" stroke="#f39a26" stroke-width="0.6"/>
<line x1="91.2" y1="445.48" x2="91.2" y2="446.70000000000005" stroke="#f39a26" stroke-width="0.6"/>
<line x1="90.10000000000001" y1="445.48" x2="92.3" y2="445.48" stroke="#f39a26" stroke-width="0.6"/>
<line x1="90.10000000000001" y1="446.70000000000005" x2="92.3" y2="446.70000000000005" stroke="#f39a26" stroke-width="0.6"/>
<line x1="107.2" y1="442.43" x2="107.2" y2="443.65000000000003" stroke="#f39a26" stroke-width="0.6"/>
<line x1="106.10000000000001" y1="442.43" x2="108.3" y2="442.43" stroke="#f39a26" stroke-width="0.6"/>
<line x1="106.10000000000001" y1="443.65000000000003" x2="108.3" y2="443.65000000000003" stroke="#f39a26" stroke-width="0.6"/>
<rect x="41.45" y="479.11" width="3.5" height="3.5" fill="#f39a26" stroke="none" stroke-width="0.8" rx="0"/>
<rect x="57.45" y="468.74" width="3.5" height="3.5" fill="#f39a26" stroke="none" stroke-width="0.8" rx="0"/>
<rect x="73.45" y="453.49" width="3.5" height="3.5" fill="#f39a26" stroke="none" stroke-width="0.8" rx="0"/>
<rect x="89.45" y="444.34000000000003" width="3.5" height="3.5" fill="#f39a26" stroke="none" stroke-width="0.8" rx="0"/>
<rect x="105.45" y="441.29" width="3.5" height="3.5" fill="#f39a26" stroke="none" stroke-width="0.8" rx="0"/>
<path d="M43.20,474.15 L59.20,463.78 L75.20,452.80 L91.20,444.87 L107.20,442.43" fill="none" stroke="#a8183e" stroke-width="1.05"/>
<line x1="75.2" y1="451.58000000000004" x2="75.2" y2="454.02000000000004" stroke="#a8183e" stroke-width="0.6"/>
<line x1="74.10000000000001" y1="451.58000000000004" x2="76.3" y2="451.58000000000004" stroke="#a8183e" stroke-width="0.6"/>
<line x1="74.10000000000001" y1="454.02000000000004" x2="76.3" y2="454.02000000000004" stroke="#a8183e" stroke-width="0.6"/>
<line x1="91.2" y1="444.26000000000005" x2="91.2" y2="445.48" stroke="#a8183e" stroke-width="0.6"/>
<line x1="90.10000000000001" y1="444.26000000000005" x2="92.3" y2="444.26000000000005" stroke="#a8183e" stroke-width="0.6"/>
<line x1="90.10000000000001" y1="445.48" x2="92.3" y2="445.48" stroke="#a8183e" stroke-width="0.6"/>
<line x1="107.2" y1="441.82000000000005" x2="107.2" y2="443.04" stroke="#a8183e" stroke-width="0.6"/>
<line x1="106.10000000000001" y1="441.82000000000005" x2="108.3" y2="441.82000000000005" stroke="#a8183e" stroke-width="0.6"/>
<line x1="106.10000000000001" y1="443.04" x2="108.3" y2="443.04" stroke="#a8183e" stroke-width="0.6"/>
<circle cx="43.2" cy="474.15000000000003" r="1.75" fill="#a8183e"/>
<circle cx="59.2" cy="463.78000000000003" r="1.75" fill="#a8183e"/>
<circle cx="75.2" cy="452.8" r="1.75" fill="#a8183e"/>
<circle cx="91.2" cy="444.87" r="1.75" fill="#a8183e"/>
<circle cx="107.2" cy="442.43" r="1.75" fill="#a8183e"/>
<path d="M43.20,460.73 L59.20,451.58 L75.20,444.87 L91.20,443.65 L107.20,442.43" fill="none" stroke="#42235f" stroke-width="1.05"/>
<line x1="91.2" y1="443.04" x2="91.2" y2="444.26000000000005" stroke="#42235f" stroke-width="0.6"/>
<line x1="90.10000000000001" y1="443.04" x2="92.3" y2="443.04" stroke="#42235f" stroke-width="0.6"/>
<line x1="90.10000000000001" y1="444.26000000000005" x2="92.3" y2="444.26000000000005" stroke="#42235f" stroke-width="0.6"/>
<line x1="107.2" y1="441.82000000000005" x2="107.2" y2="443.04" stroke="#42235f" stroke-width="0.6"/>
<line x1="106.10000000000001" y1="441.82000000000005" x2="108.3" y2="441.82000000000005" stroke="#42235f" stroke-width="0.6"/>
<line x1="106.10000000000001" y1="443.04" x2="108.3" y2="443.04" stroke="#42235f" stroke-width="0.6"/>
<path d="M43.2,458.5425 L45.300000000000004,462.305 L41.1,462.305 Z" fill="#42235f"/>
<path d="M59.2,449.39250000000004 L61.300000000000004,453.15500000000003 L57.1,453.15500000000003 Z" fill="#42235f"/>
<path d="M75.2,442.6825 L77.3,446.445 L73.10000000000001,446.445 Z" fill="#42235f"/>
<path d="M91.2,441.46250000000003 L93.3,445.225 L89.10000000000001,445.225 Z" fill="#42235f"/>
<path d="M107.2,440.2425 L109.3,444.005 L105.10000000000001,444.005 Z" fill="#42235f"/>
<text transform="translate(13.400000000000002,469.4) rotate(-90)" font-size="8.2" text-anchor="middle" fill="#231F20" stroke="#231F20" stroke-width="0.08" textLength="46.5" lengthAdjust="spacingAndGlyphs">Cytotoxicity (%)</text>
<text x="72.8" y="524.8" font-size="8.6" text-anchor="middle" textLength="24" lengthAdjust="spacingAndGlyphs" fill="#231F20" stroke="#231F20" stroke-width="0.2">E:T ratio</text>
<line x1="152.5" y1="440.0" x2="152.5" y2="502.20000000000005" stroke="#111" stroke-width="1.2"/>
<line x1="151.9" y1="501.6" x2="226.8" y2="501.6" stroke="#111" stroke-width="1.2"/>
<line x1="150.0" y1="501.6" x2="152.5" y2="501.6" stroke="#111" stroke-width="1.08"/>
<text x="146.5" y="503.904" font-size="6.4" text-anchor="end" fill="#231F20" stroke="#231F20" stroke-width="0.08">0</text>
<line x1="150.0" y1="489.40000000000003" x2="152.5" y2="489.40000000000003" stroke="#111" stroke-width="1.08"/>
<text x="146.5" y="491.704" font-size="6.4" text-anchor="end" fill="#231F20" stroke="#231F20" stroke-width="0.08">20</text>
<line x1="150.0" y1="477.20000000000005" x2="152.5" y2="477.20000000000005" stroke="#111" stroke-width="1.08"/>
<text x="146.5" y="479.504" font-size="6.4" text-anchor="end" fill="#231F20" stroke="#231F20" stroke-width="0.08">40</text>
<line x1="150.0" y1="465.0" x2="152.5" y2="465.0" stroke="#111" stroke-width="1.08"/>
<text x="146.5" y="467.304" font-size="6.4" text-anchor="end" fill="#231F20" stroke="#231F20" stroke-width="0.08">60</text>
<line x1="150.0" y1="452.8" x2="152.5" y2="452.8" stroke="#111" stroke-width="1.08"/>
<text x="146.5" y="455.104" font-size="6.4" text-anchor="end" fill="#231F20" stroke="#231F20" stroke-width="0.08">80</text>
<line x1="150.0" y1="440.6" x2="152.5" y2="440.6" stroke="#111" stroke-width="1.08"/>
<text x="146.5" y="442.904" font-size="6.4" text-anchor="end" fill="#231F20" stroke="#231F20" stroke-width="0.08">100</text>
<line x1="160.8" y1="501.6" x2="160.8" y2="504.1" stroke="#111" stroke-width="1.08"/>
<text x="160.8" y="512.1" font-size="7.2" text-anchor="middle" textLength="12.4" lengthAdjust="spacingAndGlyphs" fill="#231F20" stroke="#231F20" stroke-width="0.08">0.33</text>
<line x1="176.7" y1="501.6" x2="176.7" y2="504.1" stroke="#111" stroke-width="1.08"/>
<text x="176.7" y="512.1" font-size="7.2" text-anchor="middle" textLength="12.4" lengthAdjust="spacingAndGlyphs" fill="#231F20" stroke="#231F20" stroke-width="0.08">0.65</text>
<line x1="192.5" y1="501.6" x2="192.5" y2="504.1" stroke="#111" stroke-width="1.08"/>
<text x="192.5" y="512.1" font-size="7.2" text-anchor="middle" textLength="12.4" lengthAdjust="spacingAndGlyphs" fill="#231F20" stroke="#231F20" stroke-width="0.08">1.30</text>
<line x1="208.2" y1="501.6" x2="208.2" y2="504.1" stroke="#111" stroke-width="1.08"/>
<text x="208.2" y="512.1" font-size="7.2" text-anchor="middle" textLength="12.4" lengthAdjust="spacingAndGlyphs" fill="#231F20" stroke="#231F20" stroke-width="0.08">2.50</text>
<line x1="224.0" y1="501.6" x2="224.0" y2="504.1" stroke="#111" stroke-width="1.08"/>
<text x="224.0" y="512.1" font-size="7.2" text-anchor="middle" textLength="12.4" lengthAdjust="spacingAndGlyphs" fill="#231F20" stroke="#231F20" stroke-width="0.08">5.00</text>
<path d="M160.80,494.89 L176.70,491.23 L192.50,486.35 L208.20,482.69 L224.00,476.59" fill="none" stroke="#f39a26" stroke-width="1.05"/>
<line x1="160.8" y1="494.28000000000003" x2="160.8" y2="495.5" stroke="#f39a26" stroke-width="0.6"/>
<line x1="159.70000000000002" y1="494.28000000000003" x2="161.9" y2="494.28000000000003" stroke="#f39a26" stroke-width="0.6"/>
<line x1="159.70000000000002" y1="495.5" x2="161.9" y2="495.5" stroke="#f39a26" stroke-width="0.6"/>
<line x1="176.7" y1="490.315" x2="176.7" y2="492.14500000000004" stroke="#f39a26" stroke-width="0.6"/>
<line x1="175.6" y1="490.315" x2="177.79999999999998" y2="490.315" stroke="#f39a26" stroke-width="0.6"/>
<line x1="175.6" y1="492.14500000000004" x2="177.79999999999998" y2="492.14500000000004" stroke="#f39a26" stroke-width="0.6"/>
<line x1="192.5" y1="485.74" x2="192.5" y2="486.96000000000004" stroke="#f39a26" stroke-width="0.6"/>
<line x1="191.4" y1="485.74" x2="193.6" y2="485.74" stroke="#f39a26" stroke-width="0.6"/>
<line x1="191.4" y1="486.96000000000004" x2="193.6" y2="486.96000000000004" stroke="#f39a26" stroke-width="0.6"/>
<line x1="208.2" y1="481.77500000000003" x2="208.2" y2="483.605" stroke="#f39a26" stroke-width="0.6"/>
<line x1="207.1" y1="481.77500000000003" x2="209.29999999999998" y2="481.77500000000003" stroke="#f39a26" stroke-width="0.6"/>
<line x1="207.1" y1="483.605" x2="209.29999999999998" y2="483.605" stroke="#f39a26" stroke-width="0.6"/>
<line x1="224.0" y1="475.98" x2="224.0" y2="477.20000000000005" stroke="#f39a26" stroke-width="0.6"/>
<line x1="222.9" y1="475.98" x2="225.1" y2="475.98" stroke="#f39a26" stroke-width="0.6"/>
<line x1="222.9" y1="477.20000000000005" x2="225.1" y2="477.20000000000005" stroke="#f39a26" stroke-width="0.6"/>
<rect x="159.05" y="493.14000000000004" width="3.5" height="3.5" fill="#f39a26" stroke="none" stroke-width="0.8" rx="0"/>
<rect x="174.95" y="489.48" width="3.5" height="3.5" fill="#f39a26" stroke="none" stroke-width="0.8" rx="0"/>
<rect x="190.75" y="484.6" width="3.5" height="3.5" fill="#f39a26" stroke="none" stroke-width="0.8" rx="0"/>
<rect x="206.45" y="480.94" width="3.5" height="3.5" fill="#f39a26" stroke="none" stroke-width="0.8" rx="0"/>
<rect x="222.25" y="474.84000000000003" width="3.5" height="3.5" fill="#f39a26" stroke="none" stroke-width="0.8" rx="0"/>
<path d="M160.80,487.57 L176.70,478.42 L192.50,465.00 L208.20,454.02 L224.00,445.48" fill="none" stroke="#42235f" stroke-width="1.05"/>
<line x1="176.7" y1="477.20000000000005" x2="176.7" y2="479.64000000000004" stroke="#42235f" stroke-width="0.6"/>
<line x1="175.6" y1="477.20000000000005" x2="177.79999999999998" y2="477.20000000000005" stroke="#42235f" stroke-width="0.6"/>
<line x1="175.6" y1="479.64000000000004" x2="177.79999999999998" y2="479.64000000000004" stroke="#42235f" stroke-width="0.6"/>
<line x1="208.2" y1="452.19000000000005" x2="208.2" y2="455.85" stroke="#42235f" stroke-width="0.6"/>
<line x1="207.1" y1="452.19000000000005" x2="209.29999999999998" y2="452.19000000000005" stroke="#42235f" stroke-width="0.6"/>
<line x1="207.1" y1="455.85" x2="209.29999999999998" y2="455.85" stroke="#42235f" stroke-width="0.6"/>
<path d="M160.8,485.38250000000005 L162.9,489.14500000000004 L158.70000000000002,489.14500000000004 Z" fill="#42235f"/>
<path d="M176.7,476.2325 L178.79999999999998,479.995 L174.6,479.995 Z" fill="#42235f"/>
<path d="M192.5,462.8125 L194.6,466.575 L190.4,466.575 Z" fill="#42235f"/>
<path d="M208.2,451.83250000000004 L210.29999999999998,455.595 L206.1,455.595 Z" fill="#42235f"/>
<path d="M224.0,443.2925 L226.1,447.055 L221.9,447.055 Z" fill="#42235f"/>
<path d="M160.80,488.18 L176.70,477.20 L192.50,463.78 L208.20,452.80 L224.00,443.65" fill="none" stroke="#a8183e" stroke-width="1.05"/>
<line x1="176.7" y1="475.37" x2="176.7" y2="479.03000000000003" stroke="#a8183e" stroke-width="0.6"/>
<line x1="175.6" y1="475.37" x2="177.79999999999998" y2="475.37" stroke="#a8183e" stroke-width="0.6"/>
<line x1="175.6" y1="479.03000000000003" x2="177.79999999999998" y2="479.03000000000003" stroke="#a8183e" stroke-width="0.6"/>
<line x1="192.5" y1="463.17" x2="192.5" y2="464.39000000000004" stroke="#a8183e" stroke-width="0.6"/>
<line x1="191.4" y1="463.17" x2="193.6" y2="463.17" stroke="#a8183e" stroke-width="0.6"/>
<line x1="191.4" y1="464.39000000000004" x2="193.6" y2="464.39000000000004" stroke="#a8183e" stroke-width="0.6"/>
<line x1="208.2" y1="451.58000000000004" x2="208.2" y2="454.02000000000004" stroke="#a8183e" stroke-width="0.6"/>
<line x1="207.1" y1="451.58000000000004" x2="209.29999999999998" y2="451.58000000000004" stroke="#a8183e" stroke-width="0.6"/>
<line x1="207.1" y1="454.02000000000004" x2="209.29999999999998" y2="454.02000000000004" stroke="#a8183e" stroke-width="0.6"/>
<line x1="224.0" y1="443.04" x2="224.0" y2="444.26000000000005" stroke="#a8183e" stroke-width="0.6"/>
<line x1="222.9" y1="443.04" x2="225.1" y2="443.04" stroke="#a8183e" stroke-width="0.6"/>
<line x1="222.9" y1="444.26000000000005" x2="225.1" y2="444.26000000000005" stroke="#a8183e" stroke-width="0.6"/>
<circle cx="160.8" cy="488.18" r="1.75" fill="#a8183e"/>
<circle cx="176.7" cy="477.20000000000005" r="1.75" fill="#a8183e"/>
<circle cx="192.5" cy="463.78000000000003" r="1.75" fill="#a8183e"/>
<circle cx="208.2" cy="452.8" r="1.75" fill="#a8183e"/>
<circle cx="224.0" cy="443.65000000000003" r="1.75" fill="#a8183e"/>
<text transform="translate(131.3,469.4) rotate(-90)" font-size="8.2" text-anchor="middle" fill="#231F20" stroke="#231F20" stroke-width="0.08" textLength="46.5" lengthAdjust="spacingAndGlyphs">Cytotoxicity (%)</text>
<text x="189.7" y="524.8" font-size="8.6" text-anchor="middle" textLength="24" lengthAdjust="spacingAndGlyphs" fill="#231F20" stroke="#231F20" stroke-width="0.2">E:T ratio</text>
<line x1="268.1" y1="440.0" x2="268.1" y2="502.20000000000005" stroke="#111" stroke-width="1.2"/>
<line x1="267.5" y1="501.6" x2="342.6" y2="501.6" stroke="#111" stroke-width="1.2"/>
<line x1="265.6" y1="501.6" x2="268.1" y2="501.6" stroke="#111" stroke-width="1.08"/>
<text x="262.1" y="503.904" font-size="6.4" text-anchor="end" fill="#231F20" stroke="#231F20" stroke-width="0.08">0</text>
<line x1="265.6" y1="489.40000000000003" x2="268.1" y2="489.40000000000003" stroke="#111" stroke-width="1.08"/>
<text x="262.1" y="491.704" font-size="6.4" text-anchor="end" fill="#231F20" stroke="#231F20" stroke-width="0.08">20</text>
<line x1="265.6" y1="477.20000000000005" x2="268.1" y2="477.20000000000005" stroke="#111" stroke-width="1.08"/>
<text x="262.1" y="479.504" font-size="6.4" text-anchor="end" fill="#231F20" stroke="#231F20" stroke-width="0.08">40</text>
<line x1="265.6" y1="465.0" x2="268.1" y2="465.0" stroke="#111" stroke-width="1.08"/>
<text x="262.1" y="467.304" font-size="6.4" text-anchor="end" fill="#231F20" stroke="#231F20" stroke-width="0.08">60</text>
<line x1="265.6" y1="452.8" x2="268.1" y2="452.8" stroke="#111" stroke-width="1.08"/>
<text x="262.1" y="455.104" font-size="6.4" text-anchor="end" fill="#231F20" stroke="#231F20" stroke-width="0.08">80</text>
<line x1="265.6" y1="440.6" x2="268.1" y2="440.6" stroke="#111" stroke-width="1.08"/>
<text x="262.1" y="442.904" font-size="6.4" text-anchor="end" fill="#231F20" stroke="#231F20" stroke-width="0.08">100</text>
<line x1="276.4" y1="501.6" x2="276.4" y2="504.1" stroke="#111" stroke-width="1.08"/>
<text x="276.4" y="512.1" font-size="7.2" text-anchor="middle" textLength="12.4" lengthAdjust="spacingAndGlyphs" fill="#231F20" stroke="#231F20" stroke-width="0.08">0.33</text>
<line x1="292.3" y1="501.6" x2="292.3" y2="504.1" stroke="#111" stroke-width="1.08"/>
<text x="292.3" y="512.1" font-size="7.2" text-anchor="middle" textLength="12.4" lengthAdjust="spacingAndGlyphs" fill="#231F20" stroke="#231F20" stroke-width="0.08">0.65</text>
<line x1="308.1" y1="501.6" x2="308.1" y2="504.1" stroke="#111" stroke-width="1.08"/>
<text x="308.1" y="512.1" font-size="7.2" text-anchor="middle" textLength="12.4" lengthAdjust="spacingAndGlyphs" fill="#231F20" stroke="#231F20" stroke-width="0.08">1.30</text>
<line x1="323.9" y1="501.6" x2="323.9" y2="504.1" stroke="#111" stroke-width="1.08"/>
<text x="323.9" y="512.1" font-size="7.2" text-anchor="middle" textLength="12.4" lengthAdjust="spacingAndGlyphs" fill="#231F20" stroke="#231F20" stroke-width="0.08">2.50</text>
<line x1="339.7" y1="501.6" x2="339.7" y2="504.1" stroke="#111" stroke-width="1.08"/>
<text x="339.7" y="512.1" font-size="7.2" text-anchor="middle" textLength="12.4" lengthAdjust="spacingAndGlyphs" fill="#231F20" stroke="#231F20" stroke-width="0.08">5.00</text>
<path d="M276.40,495.81 L292.30,488.79 L308.10,485.13 L323.90,482.08 L339.70,477.20" fill="none" stroke="#a8183e" stroke-width="1.05"/>
<line x1="339.7" y1="475.98" x2="339.7" y2="478.42" stroke="#a8183e" stroke-width="0.6"/>
<line x1="338.59999999999997" y1="475.98" x2="340.8" y2="475.98" stroke="#a8183e" stroke-width="0.6"/>
<line x1="338.59999999999997" y1="478.42" x2="340.8" y2="478.42" stroke="#a8183e" stroke-width="0.6"/>
<circle cx="276.4" cy="495.805" r="1.75" fill="#a8183e"/>
<circle cx="292.3" cy="488.79" r="1.75" fill="#a8183e"/>
<circle cx="308.1" cy="485.13" r="1.75" fill="#a8183e"/>
<circle cx="323.9" cy="482.08000000000004" r="1.75" fill="#a8183e"/>
<circle cx="339.7" cy="477.20000000000005" r="1.75" fill="#a8183e"/>
<path d="M276.40,491.23 L292.30,479.64 L308.10,465.61 L323.90,457.07 L339.70,449.75" fill="none" stroke="#42235f" stroke-width="1.05"/>
<line x1="339.7" y1="449.14000000000004" x2="339.7" y2="450.36" stroke="#42235f" stroke-width="0.6"/>
<line x1="338.59999999999997" y1="449.14000000000004" x2="340.8" y2="449.14000000000004" stroke="#42235f" stroke-width="0.6"/>
<line x1="338.59999999999997" y1="450.36" x2="340.8" y2="450.36" stroke="#42235f" stroke-width="0.6"/>
<path d="M276.4,489.0425 L278.5,492.805 L274.29999999999995,492.805 Z" fill="#42235f"/>
<path d="M292.3,477.45250000000004 L294.40000000000003,481.21500000000003 L290.2,481.21500000000003 Z" fill="#42235f"/>
<path d="M308.1,463.4225 L310.20000000000005,467.185 L306.0,467.185 Z" fill="#42235f"/>
<path d="M323.9,454.88250000000005 L326.0,458.64500000000004 L321.79999999999995,458.64500000000004 Z" fill="#42235f"/>
<path d="M339.7,447.5625 L341.8,451.325 L337.59999999999997,451.325 Z" fill="#42235f"/>
<path d="M276.40,488.18 L292.30,475.98 L308.10,463.17 L323.90,452.80 L339.70,444.87" fill="none" stroke="#f39a26" stroke-width="1.05"/>
<line x1="292.3" y1="475.37" x2="292.3" y2="476.59000000000003" stroke="#f39a26" stroke-width="0.6"/>
<line x1="291.2" y1="475.37" x2="293.40000000000003" y2="475.37" stroke="#f39a26" stroke-width="0.6"/>
<line x1="291.2" y1="476.59000000000003" x2="293.40000000000003" y2="476.59000000000003" stroke="#f39a26" stroke-width="0.6"/>
<line x1="308.1" y1="462.56" x2="308.1" y2="463.78000000000003" stroke="#f39a26" stroke-width="0.6"/>
<line x1="307.0" y1="462.56" x2="309.20000000000005" y2="462.56" stroke="#f39a26" stroke-width="0.6"/>
<line x1="307.0" y1="463.78000000000003" x2="309.20000000000005" y2="463.78000000000003" stroke="#f39a26" stroke-width="0.6"/>
<line x1="323.9" y1="452.19000000000005" x2="323.9" y2="453.41" stroke="#f39a26" stroke-width="0.6"/>
<line x1="322.79999999999995" y1="452.19000000000005" x2="325.0" y2="452.19000000000005" stroke="#f39a26" stroke-width="0.6"/>
<line x1="322.79999999999995" y1="453.41" x2="325.0" y2="453.41" stroke="#f39a26" stroke-width="0.6"/>
<line x1="339.7" y1="444.26000000000005" x2="339.7" y2="445.48" stroke="#f39a26" stroke-width="0.6"/>
<line x1="338.59999999999997" y1="444.26000000000005" x2="340.8" y2="444.26000000000005" stroke="#f39a26" stroke-width="0.6"/>
<line x1="338.59999999999997" y1="445.48" x2="340.8" y2="445.48" stroke="#f39a26" stroke-width="0.6"/>
<rect x="274.65" y="486.43" width="3.5" height="3.5" fill="#f39a26" stroke="none" stroke-width="0.8" rx="0"/>
<rect x="290.55" y="474.23" width="3.5" height="3.5" fill="#f39a26" stroke="none" stroke-width="0.8" rx="0"/>
<rect x="306.35" y="461.42" width="3.5" height="3.5" fill="#f39a26" stroke="none" stroke-width="0.8" rx="0"/>
<rect x="322.15" y="451.05" width="3.5" height="3.5" fill="#f39a26" stroke="none" stroke-width="0.8" rx="0"/>
<rect x="337.95" y="443.12" width="3.5" height="3.5" fill="#f39a26" stroke="none" stroke-width="0.8" rx="0"/>
<text transform="translate(246.90000000000003,469.4) rotate(-90)" font-size="8.2" text-anchor="middle" fill="#231F20" stroke="#231F20" stroke-width="0.08" textLength="46.5" lengthAdjust="spacingAndGlyphs">Cytotoxicity (%)</text>
<text x="305.5" y="524.8" font-size="8.6" text-anchor="middle" textLength="24" lengthAdjust="spacingAndGlyphs" fill="#231F20" stroke="#231F20" stroke-width="0.2">E:T ratio</text>
<line x1="383.3" y1="440.0" x2="383.3" y2="502.20000000000005" stroke="#111" stroke-width="1.2"/>
<line x1="382.7" y1="501.6" x2="458.4" y2="501.6" stroke="#111" stroke-width="1.2"/>
<line x1="380.8" y1="501.6" x2="383.3" y2="501.6" stroke="#111" stroke-width="1.08"/>
<text x="377.3" y="503.904" font-size="6.4" text-anchor="end" fill="#231F20" stroke="#231F20" stroke-width="0.08">0</text>
<line x1="380.8" y1="489.40000000000003" x2="383.3" y2="489.40000000000003" stroke="#111" stroke-width="1.08"/>
<text x="377.3" y="491.704" font-size="6.4" text-anchor="end" fill="#231F20" stroke="#231F20" stroke-width="0.08">20</text>
<line x1="380.8" y1="477.20000000000005" x2="383.3" y2="477.20000000000005" stroke="#111" stroke-width="1.08"/>
<text x="377.3" y="479.504" font-size="6.4" text-anchor="end" fill="#231F20" stroke="#231F20" stroke-width="0.08">40</text>
<line x1="380.8" y1="465.0" x2="383.3" y2="465.0" stroke="#111" stroke-width="1.08"/>
<text x="377.3" y="467.304" font-size="6.4" text-anchor="end" fill="#231F20" stroke="#231F20" stroke-width="0.08">60</text>
<line x1="380.8" y1="452.8" x2="383.3" y2="452.8" stroke="#111" stroke-width="1.08"/>
<text x="377.3" y="455.104" font-size="6.4" text-anchor="end" fill="#231F20" stroke="#231F20" stroke-width="0.08">80</text>
<line x1="380.8" y1="440.6" x2="383.3" y2="440.6" stroke="#111" stroke-width="1.08"/>
<text x="377.3" y="442.904" font-size="6.4" text-anchor="end" fill="#231F20" stroke="#231F20" stroke-width="0.08">100</text>
<line x1="392.2" y1="501.6" x2="392.2" y2="504.1" stroke="#111" stroke-width="1.08"/>
<text x="392.2" y="512.1" font-size="7.2" text-anchor="middle" textLength="12.4" lengthAdjust="spacingAndGlyphs" fill="#231F20" stroke="#231F20" stroke-width="0.08">0.33</text>
<line x1="407.9" y1="501.6" x2="407.9" y2="504.1" stroke="#111" stroke-width="1.08"/>
<text x="407.9" y="512.1" font-size="7.2" text-anchor="middle" textLength="12.4" lengthAdjust="spacingAndGlyphs" fill="#231F20" stroke="#231F20" stroke-width="0.08">0.65</text>
<line x1="423.6" y1="501.6" x2="423.6" y2="504.1" stroke="#111" stroke-width="1.08"/>
<text x="423.6" y="512.1" font-size="7.2" text-anchor="middle" textLength="12.4" lengthAdjust="spacingAndGlyphs" fill="#231F20" stroke="#231F20" stroke-width="0.08">1.30</text>
<line x1="439.3" y1="501.6" x2="439.3" y2="504.1" stroke="#111" stroke-width="1.08"/>
<text x="439.3" y="512.1" font-size="7.2" text-anchor="middle" textLength="12.4" lengthAdjust="spacingAndGlyphs" fill="#231F20" stroke="#231F20" stroke-width="0.08">2.50</text>
<line x1="455.1" y1="501.6" x2="455.1" y2="504.1" stroke="#111" stroke-width="1.08"/>
<text x="455.1" y="512.1" font-size="7.2" text-anchor="middle" textLength="12.4" lengthAdjust="spacingAndGlyphs" fill="#231F20" stroke="#231F20" stroke-width="0.08">5.00</text>
<path d="M392.20,494.89 L407.90,486.96 L423.60,485.74 L439.30,480.25 L455.10,471.71" fill="none" stroke="#f39a26" stroke-width="1.05"/>
<line x1="392.2" y1="494.28000000000003" x2="392.2" y2="495.5" stroke="#f39a26" stroke-width="0.6"/>
<line x1="391.09999999999997" y1="494.28000000000003" x2="393.3" y2="494.28000000000003" stroke="#f39a26" stroke-width="0.6"/>
<line x1="391.09999999999997" y1="495.5" x2="393.3" y2="495.5" stroke="#f39a26" stroke-width="0.6"/>
<line x1="407.9" y1="485.74" x2="407.9" y2="488.18" stroke="#f39a26" stroke-width="0.6"/>
<line x1="406.79999999999995" y1="485.74" x2="409.0" y2="485.74" stroke="#f39a26" stroke-width="0.6"/>
<line x1="406.79999999999995" y1="488.18" x2="409.0" y2="488.18" stroke="#f39a26" stroke-width="0.6"/>
<line x1="423.6" y1="484.52000000000004" x2="423.6" y2="486.96000000000004" stroke="#f39a26" stroke-width="0.6"/>
<line x1="422.5" y1="484.52000000000004" x2="424.70000000000005" y2="484.52000000000004" stroke="#f39a26" stroke-width="0.6"/>
<line x1="422.5" y1="486.96000000000004" x2="424.70000000000005" y2="486.96000000000004" stroke="#f39a26" stroke-width="0.6"/>
<line x1="439.3" y1="479.03000000000003" x2="439.3" y2="481.47" stroke="#f39a26" stroke-width="0.6"/>
<line x1="438.2" y1="479.03000000000003" x2="440.40000000000003" y2="479.03000000000003" stroke="#f39a26" stroke-width="0.6"/>
<line x1="438.2" y1="481.47" x2="440.40000000000003" y2="481.47" stroke="#f39a26" stroke-width="0.6"/>
<line x1="455.1" y1="470.49" x2="455.1" y2="472.93" stroke="#f39a26" stroke-width="0.6"/>
<line x1="454.0" y1="470.49" x2="456.20000000000005" y2="470.49" stroke="#f39a26" stroke-width="0.6"/>
<line x1="454.0" y1="472.93" x2="456.20000000000005" y2="472.93" stroke="#f39a26" stroke-width="0.6"/>
<circle cx="392.2" cy="494.89000000000004" r="1.75" fill="#f39a26"/>
<circle cx="407.9" cy="486.96000000000004" r="1.75" fill="#f39a26"/>
<circle cx="423.6" cy="485.74" r="1.75" fill="#f39a26"/>
<circle cx="439.3" cy="480.25" r="1.75" fill="#f39a26"/>
<circle cx="455.1" cy="471.71000000000004" r="1.75" fill="#f39a26"/>
<path d="M392.20,493.67 L407.90,486.35 L423.60,486.35 L439.30,479.03 L455.10,474.76" fill="none" stroke="#a8183e" stroke-width="1.05"/>
<line x1="392.2" y1="493.06" x2="392.2" y2="494.28000000000003" stroke="#a8183e" stroke-width="0.6"/>
<line x1="391.09999999999997" y1="493.06" x2="393.3" y2="493.06" stroke="#a8183e" stroke-width="0.6"/>
<line x1="391.09999999999997" y1="494.28000000000003" x2="393.3" y2="494.28000000000003" stroke="#a8183e" stroke-width="0.6"/>
<line x1="407.9" y1="484.52000000000004" x2="407.9" y2="488.18" stroke="#a8183e" stroke-width="0.6"/>
<line x1="406.79999999999995" y1="484.52000000000004" x2="409.0" y2="484.52000000000004" stroke="#a8183e" stroke-width="0.6"/>
<line x1="406.79999999999995" y1="488.18" x2="409.0" y2="488.18" stroke="#a8183e" stroke-width="0.6"/>
<line x1="423.6" y1="484.52000000000004" x2="423.6" y2="488.18" stroke="#a8183e" stroke-width="0.6"/>
<line x1="422.5" y1="484.52000000000004" x2="424.70000000000005" y2="484.52000000000004" stroke="#a8183e" stroke-width="0.6"/>
<line x1="422.5" y1="488.18" x2="424.70000000000005" y2="488.18" stroke="#a8183e" stroke-width="0.6"/>
<line x1="439.3" y1="477.81" x2="439.3" y2="480.25" stroke="#a8183e" stroke-width="0.6"/>
<line x1="438.2" y1="477.81" x2="440.40000000000003" y2="477.81" stroke="#a8183e" stroke-width="0.6"/>
<line x1="438.2" y1="480.25" x2="440.40000000000003" y2="480.25" stroke="#a8183e" stroke-width="0.6"/>
<line x1="455.1" y1="473.54" x2="455.1" y2="475.98" stroke="#a8183e" stroke-width="0.6"/>
<line x1="454.0" y1="473.54" x2="456.20000000000005" y2="473.54" stroke="#a8183e" stroke-width="0.6"/>
<line x1="454.0" y1="475.98" x2="456.20000000000005" y2="475.98" stroke="#a8183e" stroke-width="0.6"/>
<circle cx="392.2" cy="493.67" r="1.75" fill="#a8183e"/>
<circle cx="407.9" cy="486.35" r="1.75" fill="#a8183e"/>
<circle cx="423.6" cy="486.35" r="1.75" fill="#a8183e"/>
<circle cx="439.3" cy="479.03000000000003" r="1.75" fill="#a8183e"/>
<circle cx="455.1" cy="474.76000000000005" r="1.75" fill="#a8183e"/>
<path d="M392.20,492.45 L407.90,486.96 L423.60,485.74 L439.30,479.03 L455.10,475.98" fill="none" stroke="#42235f" stroke-width="1.05"/>
<line x1="392.2" y1="491.84000000000003" x2="392.2" y2="493.06" stroke="#42235f" stroke-width="0.6"/>
<line x1="391.09999999999997" y1="491.84000000000003" x2="393.3" y2="491.84000000000003" stroke="#42235f" stroke-width="0.6"/>
<line x1="391.09999999999997" y1="493.06" x2="393.3" y2="493.06" stroke="#42235f" stroke-width="0.6"/>
<line x1="407.9" y1="485.13" x2="407.9" y2="488.79" stroke="#42235f" stroke-width="0.6"/>
<line x1="406.79999999999995" y1="485.13" x2="409.0" y2="485.13" stroke="#42235f" stroke-width="0.6"/>
<line x1="406.79999999999995" y1="488.79" x2="409.0" y2="488.79" stroke="#42235f" stroke-width="0.6"/>
<line x1="423.6" y1="483.91" x2="423.6" y2="487.57000000000005" stroke="#42235f" stroke-width="0.6"/>
<line x1="422.5" y1="483.91" x2="424.70000000000005" y2="483.91" stroke="#42235f" stroke-width="0.6"/>
<line x1="422.5" y1="487.57000000000005" x2="424.70000000000005" y2="487.57000000000005" stroke="#42235f" stroke-width="0.6"/>
<line x1="439.3" y1="477.81" x2="439.3" y2="480.25" stroke="#42235f" stroke-width="0.6"/>
<line x1="438.2" y1="477.81" x2="440.40000000000003" y2="477.81" stroke="#42235f" stroke-width="0.6"/>
<line x1="438.2" y1="480.25" x2="440.40000000000003" y2="480.25" stroke="#42235f" stroke-width="0.6"/>
<line x1="455.1" y1="474.76000000000005" x2="455.1" y2="477.20000000000005" stroke="#42235f" stroke-width="0.6"/>
<line x1="454.0" y1="474.76000000000005" x2="456.20000000000005" y2="474.76000000000005" stroke="#42235f" stroke-width="0.6"/>
<line x1="454.0" y1="477.20000000000005" x2="456.20000000000005" y2="477.20000000000005" stroke="#42235f" stroke-width="0.6"/>
<path d="M392.2,490.26250000000005 L394.3,494.02500000000003 L390.09999999999997,494.02500000000003 Z" fill="#42235f"/>
<path d="M407.9,484.77250000000004 L410.0,488.535 L405.79999999999995,488.535 Z" fill="#42235f"/>
<path d="M423.6,483.5525 L425.70000000000005,487.315 L421.5,487.315 Z" fill="#42235f"/>
<path d="M439.3,476.84250000000003 L441.40000000000003,480.605 L437.2,480.605 Z" fill="#42235f"/>
<path d="M455.1,473.7925 L457.20000000000005,477.555 L453.0,477.555 Z" fill="#42235f"/>
<text transform="translate(362.1,469.4) rotate(-90)" font-size="8.2" text-anchor="middle" fill="#231F20" stroke="#231F20" stroke-width="0.08" textLength="46.5" lengthAdjust="spacingAndGlyphs">Cytotoxicity (%)</text>
<text x="421.4" y="524.8" font-size="8.6" text-anchor="middle" textLength="24" lengthAdjust="spacingAndGlyphs" fill="#231F20" stroke="#231F20" stroke-width="0.2">E:T ratio</text>
<text x="56" y="432.3" font-size="9.4" textLength="34.2" lengthAdjust="spacingAndGlyphs" fill="#231F20" stroke="#231F20" stroke-width="0.2">SEM 24h</text>
<text x="158" y="433.1" font-size="9.4" textLength="63.5" lengthAdjust="spacingAndGlyphs" fill="#231F20" stroke="#231F20" stroke-width="0.2">SEM CD19– 24h</text>
<text x="271.9" y="433.1" font-size="9.4" textLength="67.7" lengthAdjust="spacingAndGlyphs" fill="#231F20" stroke="#231F20" stroke-width="0.2">SEM CD133– 24h</text>
<text x="374.2" y="433.1" font-size="9.4" textLength="94.2" lengthAdjust="spacingAndGlyphs" fill="#231F20" stroke="#231F20" stroke-width="0.2">SEM CD19–CD133– 24h</text>
<circle cx="391.6" cy="443.9" r="2.0" fill="#f39a26"/>
<text x="398.1" y="446.29999999999995" font-size="6.8" textLength="47.6" lengthAdjust="spacingAndGlyphs" fill="#231F20" stroke="#231F20" stroke-width="0.08">CD19 CAR-iNKT</text>
<line x1="388.7" y1="451.9" x2="393.90000000000003" y2="451.9" stroke="#a8183e" stroke-width="0.9"/>
<path d="M391.3,449.95 L392.8,451.9 L391.3,453.84999999999997 L389.8,451.9 Z" fill="#a8183e"/>
<text x="398.1" y="454.29999999999995" font-size="6.8" textLength="51.5" lengthAdjust="spacingAndGlyphs" fill="#231F20" stroke="#231F20" stroke-width="0.08">CD133 CAR-iNKT</text>
<line x1="388.7" y1="460.4" x2="393.90000000000003" y2="460.4" stroke="#42235f" stroke-width="0.9"/>
<path d="M391.3,458.525 L393.1,461.75 L389.5,461.75 Z" fill="#42235f"/>
<text x="398.1" y="462.79999999999995" font-size="6.8" textLength="44.5" lengthAdjust="spacingAndGlyphs" fill="#231F20" stroke="#231F20" stroke-width="0.08">CD133–CD19</text>
<text x="398.1" y="470.79999999999995" font-size="6.8" textLength="30" lengthAdjust="spacingAndGlyphs" fill="#231F20" stroke="#231F20" stroke-width="0.08">CAR-iNKT</text>
<line x1="36.3" y1="557.0" x2="36.3" y2="649.9" stroke="#111" stroke-width="1.2"/>
<line x1="35.699999999999996" y1="649.3" x2="150" y2="649.3" stroke="#111" stroke-width="1.2"/>
<line x1="33.5" y1="649.3" x2="36.3" y2="649.3" stroke="#111" stroke-width="1.08"/>
<text x="31.9" y="651.6759999999999" font-size="6.6" text-anchor="end" fill="#231F20" stroke="#231F20" stroke-width="0.08">0</text>
<line x1="33.5" y1="630.9599999999999" x2="36.3" y2="630.9599999999999" stroke="#111" stroke-width="1.08"/>
<text x="31.9" y="633.3359999999999" font-size="6.6" text-anchor="end" fill="#231F20" stroke="#231F20" stroke-width="0.08">20</text>
<line x1="33.5" y1="612.62" x2="36.3" y2="612.62" stroke="#111" stroke-width="1.08"/>
<text x="31.9" y="614.996" font-size="6.6" text-anchor="end" fill="#231F20" stroke="#231F20" stroke-width="0.08">40</text>
<line x1="33.5" y1="594.28" x2="36.3" y2="594.28" stroke="#111" stroke-width="1.08"/>
<text x="31.9" y="596.656" font-size="6.6" text-anchor="end" fill="#231F20" stroke="#231F20" stroke-width="0.08">60</text>
<line x1="33.5" y1="575.94" x2="36.3" y2="575.94" stroke="#111" stroke-width="1.08"/>
<text x="31.9" y="578.316" font-size="6.6" text-anchor="end" fill="#231F20" stroke="#231F20" stroke-width="0.08">80</text>
<line x1="33.5" y1="557.6" x2="36.3" y2="557.6" stroke="#111" stroke-width="1.08"/>
<text x="31.9" y="559.976" font-size="6.6" text-anchor="end" fill="#231F20" stroke="#231F20" stroke-width="0.08">100</text>
<line x1="41.8" y1="649.3" x2="41.8" y2="652.0999999999999" stroke="#111" stroke-width="1.08"/>
<text x="41.8" y="662.0" font-size="6.8" text-anchor="middle" textLength="3.6" lengthAdjust="spacingAndGlyphs" fill="#231F20" stroke="#231F20" stroke-width="0.08">0</text>
<line x1="53.2" y1="649.3" x2="53.2" y2="652.0999999999999" stroke="#111" stroke-width="1.08"/>
<text x="53.2" y="662.0" font-size="6.8" text-anchor="middle" textLength="8.4" lengthAdjust="spacingAndGlyphs" fill="#231F20" stroke="#231F20" stroke-width="0.08">0.1</text>
<line x1="64.7" y1="649.3" x2="64.7" y2="652.0999999999999" stroke="#111" stroke-width="1.08"/>
<text x="64.7" y="662.0" font-size="6.8" text-anchor="middle" textLength="8.4" lengthAdjust="spacingAndGlyphs" fill="#231F20" stroke="#231F20" stroke-width="0.08">0.2</text>
<line x1="76.2" y1="649.3" x2="76.2" y2="652.0999999999999" stroke="#111" stroke-width="1.08"/>
<text x="76.2" y="662.0" font-size="6.8" text-anchor="middle" textLength="8.4" lengthAdjust="spacingAndGlyphs" fill="#231F20" stroke="#231F20" stroke-width="0.08">0.3</text>
<line x1="87.7" y1="649.3" x2="87.7" y2="652.0999999999999" stroke="#111" stroke-width="1.08"/>
<text x="87.7" y="662.0" font-size="6.8" text-anchor="middle" textLength="8.4" lengthAdjust="spacingAndGlyphs" fill="#231F20" stroke="#231F20" stroke-width="0.08">0.6</text>
<line x1="99.2" y1="649.3" x2="99.2" y2="652.0999999999999" stroke="#111" stroke-width="1.08"/>
<text x="99.2" y="662.0" font-size="6.8" text-anchor="middle" textLength="8.4" lengthAdjust="spacingAndGlyphs" fill="#231F20" stroke="#231F20" stroke-width="0.08">1.2</text>
<line x1="110.7" y1="649.3" x2="110.7" y2="652.0999999999999" stroke="#111" stroke-width="1.08"/>
<text x="110.7" y="662.0" font-size="6.8" text-anchor="middle" textLength="3.6" lengthAdjust="spacingAndGlyphs" fill="#231F20" stroke="#231F20" stroke-width="0.08">3</text>
<line x1="122.1" y1="649.3" x2="122.1" y2="652.0999999999999" stroke="#111" stroke-width="1.08"/>
<text x="122.1" y="662.0" font-size="6.8" text-anchor="middle" textLength="3.6" lengthAdjust="spacingAndGlyphs" fill="#231F20" stroke="#231F20" stroke-width="0.08">6</text>
<line x1="133.5" y1="649.3" x2="133.5" y2="652.0999999999999" stroke="#111" stroke-width="1.08"/>
<text x="133.5" y="662.0" font-size="6.8" text-anchor="middle" textLength="7.2" lengthAdjust="spacingAndGlyphs" fill="#231F20" stroke="#231F20" stroke-width="0.08">12</text>
<line x1="145.0" y1="649.3" x2="145.0" y2="652.0999999999999" stroke="#111" stroke-width="1.08"/>
<text x="145.0" y="662.0" font-size="6.8" text-anchor="middle" textLength="7.2" lengthAdjust="spacingAndGlyphs" fill="#231F20" stroke="#231F20" stroke-width="0.08">25</text>
<path d="M41.80,559.43 L53.20,582.36 L64.70,593.36 L76.20,606.20 L87.70,615.37 L99.20,619.04 L110.70,620.69 L122.10,620.87 L133.50,620.87 L145.00,621.42" fill="none" stroke="#f3a23a" stroke-width="1.05"/>
<line x1="145.0" y1="620.5061999999999" x2="145.0" y2="622.3402" stroke="#f3a23a" stroke-width="0.6"/>
<line x1="143.9" y1="620.5061999999999" x2="146.1" y2="620.5061999999999" stroke="#f3a23a" stroke-width="0.6"/>
<line x1="143.9" y1="622.3402" x2="146.1" y2="622.3402" stroke="#f3a23a" stroke-width="0.6"/>
<path d="M41.8,557.059 L44.08,561.144 L39.519999999999996,561.144 Z" fill="#f3a23a"/>
<path d="M53.2,579.984 L55.480000000000004,584.0690000000001 L50.92,584.0690000000001 Z" fill="#f3a23a"/>
<path d="M64.7,590.9879999999999 L66.98,595.073 L62.42,595.073 Z" fill="#f3a23a"/>
<path d="M76.2,603.826 L78.48,607.9110000000001 L73.92,607.9110000000001 Z" fill="#f3a23a"/>
<path d="M87.7,612.996 L89.98,617.081 L85.42,617.081 Z" fill="#f3a23a"/>
<path d="M99.2,616.664 L101.48,620.749 L96.92,620.749 Z" fill="#f3a23a"/>
<path d="M110.7,618.3145999999999 L112.98,622.3996 L108.42,622.3996 Z" fill="#f3a23a"/>
<path d="M122.1,618.4979999999999 L124.38,622.583 L119.82,622.583 Z" fill="#f3a23a"/>
<path d="M133.5,618.4979999999999 L135.78,622.583 L131.22,622.583 Z" fill="#f3a23a"/>
<path d="M145.0,619.0482 L147.28,623.1332 L142.72,623.1332 Z" fill="#f3a23a"/>
<path d="M41.80,559.43 L53.20,577.59 L64.70,586.85 L76.20,597.95 L87.70,609.87 L99.20,612.44 L110.70,614.09 L122.10,614.45 L133.50,614.45 L145.00,614.00" fill="none" stroke="#a8193c" stroke-width="1.05"/>
<path d="M41.8,561.809 L44.08,557.7239999999999 L39.519999999999996,557.7239999999999 Z" fill="#a8193c"/>
<path d="M53.2,579.9656 L55.480000000000004,575.8806 L50.92,575.8806 Z" fill="#a8193c"/>
<path d="M64.7,589.2273 L66.98,585.1423 L62.42,585.1423 Z" fill="#a8193c"/>
<path d="M76.2,600.323 L78.48,596.2379999999999 L73.92,596.2379999999999 Z" fill="#a8193c"/>
<path d="M87.7,612.244 L89.98,608.159 L85.42,608.159 Z" fill="#a8193c"/>
<path d="M99.2,614.8116 L101.48,610.7266 L96.92,610.7266 Z" fill="#a8193c"/>
<path d="M110.7,616.4621999999999 L112.98,612.3771999999999 L108.42,612.3771999999999 Z" fill="#a8193c"/>
<path d="M122.1,616.829 L124.38,612.7439999999999 L119.82,612.7439999999999 Z" fill="#a8193c"/>
<path d="M133.5,616.829 L135.78,612.7439999999999 L131.22,612.7439999999999 Z" fill="#a8193c"/>
<path d="M145.0,616.3705 L147.28,612.2855 L142.72,612.2855 Z" fill="#a8193c"/>
<path d="M41.80,559.43 L53.20,572.82 L64.70,583.28 L76.20,591.07 L87.70,594.74 L99.20,597.03 L110.70,598.41 L122.10,599.23 L133.50,598.87 L145.00,598.22" fill="none" stroke="#432558" stroke-width="1.05"/>
<line x1="122.1" y1="598.3148" x2="122.1" y2="600.1487999999999" stroke="#432558" stroke-width="0.6"/>
<line x1="121.0" y1="598.3148" x2="123.19999999999999" y2="598.3148" stroke="#432558" stroke-width="0.6"/>
<line x1="121.0" y1="600.1487999999999" x2="123.19999999999999" y2="600.1487999999999" stroke="#432558" stroke-width="0.6"/>
<line x1="145.0" y1="597.3061" x2="145.0" y2="599.1401" stroke="#432558" stroke-width="0.6"/>
<line x1="143.9" y1="597.3061" x2="146.1" y2="597.3061" stroke="#432558" stroke-width="0.6"/>
<line x1="143.9" y1="599.1401" x2="146.1" y2="599.1401" stroke="#432558" stroke-width="0.6"/>
<circle cx="41.8" cy="559.434" r="1.9" fill="#432558"/>
<circle cx="53.2" cy="572.8222" r="1.9" fill="#432558"/>
<circle cx="64.7" cy="583.276" r="1.9" fill="#432558"/>
<circle cx="76.2" cy="591.0705" r="1.9" fill="#432558"/>
<circle cx="87.7" cy="594.7385" r="1.9" fill="#432558"/>
<circle cx="99.2" cy="597.031" r="1.9" fill="#432558"/>
<circle cx="110.7" cy="598.4064999999999" r="1.9" fill="#432558"/>
<circle cx="122.1" cy="599.2318" r="1.9" fill="#432558"/>
<circle cx="133.5" cy="598.865" r="1.9" fill="#432558"/>
<circle cx="145.0" cy="598.2230999999999" r="1.9" fill="#432558"/>
<text transform="translate(13.8,601.4) rotate(-90)" font-size="8.2" text-anchor="middle" fill="#231F20" stroke="#231F20" stroke-width="0.08" textLength="76" lengthAdjust="spacingAndGlyphs">Bound CAR iNKT cells (%)</text>
<text x="93.5" y="674.0" font-size="8.6" text-anchor="middle" textLength="67" lengthAdjust="spacingAndGlyphs" fill="#231F20" stroke="#231F20" stroke-width="0.2">Shear stress (dyn/cm²)</text>
<text x="84.9" y="549.3" font-size="9.0" textLength="17.8" lengthAdjust="spacingAndGlyphs" fill="#231F20" stroke="#231F20" stroke-width="0.2">SEM</text>
<circle cx="74.3" cy="563.5" r="2.1" fill="#432558"/>
<text x="78.9" y="565.9" font-size="6.8" textLength="71.1" lengthAdjust="spacingAndGlyphs" fill="#231F20" stroke="#231F20" stroke-width="0.08">CD19–CD133 CAR iNKT</text>
<path d="M74.3,574.925 L76.82,570.41 L71.78,570.41 Z" fill="#a8193c"/>
<text x="78.9" y="574.6999999999999" font-size="6.8" textLength="52" lengthAdjust="spacingAndGlyphs" fill="#231F20" stroke="#231F20" stroke-width="0.08">CD133 CAR iNKT</text>
<path d="M74.3,578.475 L76.82,582.99 L71.78,582.99 Z" fill="#f3a23a"/>
<text x="78.9" y="583.5" font-size="6.8" textLength="47" lengthAdjust="spacingAndGlyphs" fill="#231F20" stroke="#231F20" stroke-width="0.08">CD19 CAR iNKT</text>
<path d="M152.8,564.2 H155.2 V571.4 H152.8" fill="none" stroke="#222" stroke-width="0.8"/>
<path d="M152.8,576.5 H155.2 V583.5 H152.8" fill="none" stroke="#222" stroke-width="0.8"/>
<path d="M163.0,565.2 H165.4 V582.5 H163.0" fill="none" stroke="#222" stroke-width="0.8"/>
<circle cx="159.0" cy="563.9" r="0.72" fill="#333"/>
<circle cx="159.0" cy="566.6" r="0.72" fill="#333"/>
<circle cx="159.0" cy="569.3" r="0.72" fill="#333"/>
<circle cx="159.0" cy="572.0" r="0.72" fill="#333"/>
<circle cx="159.0" cy="578.9" r="0.72" fill="#333"/>
<circle cx="159.0" cy="581.2" r="0.72" fill="#333"/>
<circle cx="169.6" cy="569.8" r="0.72" fill="#333"/>
<circle cx="169.6" cy="572.5" r="0.72" fill="#333"/>
<circle cx="169.6" cy="575.2" r="0.72" fill="#333"/>
<circle cx="169.6" cy="577.9" r="0.72" fill="#333"/>
<text x="225.4" y="568.4" font-size="6.9" textLength="53.8" lengthAdjust="spacingAndGlyphs" fill="#7d3d8f" stroke="#7d3d8f" stroke-width="0.08">CD19-CD133 CAR</text>
<text x="293.5" y="568.4" font-size="6.9" textLength="34.5" lengthAdjust="spacingAndGlyphs" fill="#c23a66" stroke="#c23a66" stroke-width="0.08">CD133 CAR</text>
<text x="352" y="568.4" font-size="6.9" textLength="32.3" lengthAdjust="spacingAndGlyphs" fill="#f0a850" stroke="#f0a850" stroke-width="0.08">CD19 CAR</text>
<text x="222.3" y="595.0" font-size="6.8" text-anchor="end" fill="#231F20" stroke="#231F20" stroke-width="0.08">0 dyn/cm<tspan font-size="4.2" dy="-3.2">2</tspan></text>
<text x="222.3" y="636.4" font-size="6.8" text-anchor="end" fill="#231F20" stroke="#231F20" stroke-width="0.08">25 dyn/cm<tspan font-size="4.2" dy="-3.2">2</tspan></text>
<rect x="225.2" y="571.8" width="55.400000000000034" height="39.80000000000007" fill="#24072e" stroke="none" stroke-width="0.8" rx="0"/>
<rect x="225.2" y="571.8" width="55.40" height="39.80" filter="url(#n00)"/>
<rect x="283.4" y="571.8" width="54.30000000000001" height="39.80000000000007" fill="#24072e" stroke="none" stroke-width="0.8" rx="0"/>
<rect x="283.4" y="571.8" width="54.30" height="39.80" filter="url(#n01)"/>
<rect x="341.0" y="571.8" width="55.30000000000001" height="39.80000000000007" fill="#24072e" stroke="none" stroke-width="0.8" rx="0"/>
<rect x="341.0" y="571.8" width="55.30" height="39.80" filter="url(#n02)"/>
<rect x="225.2" y="614.4" width="55.400000000000034" height="39.80000000000007" fill="#24072e" stroke="none" stroke-width="0.8" rx="0"/>
<rect x="225.2" y="614.4" width="55.40" height="39.80" filter="url(#n10)"/>
<rect x="283.4" y="614.4" width="54.30000000000001" height="39.80000000000007" fill="#24072e" stroke="none" stroke-width="0.8" rx="0"/>
<rect x="283.4" y="614.4" width="54.30" height="39.80" filter="url(#n11)"/>
<rect x="341.0" y="614.4" width="55.30000000000001" height="39.80000000000007" fill="#24072e" stroke="none" stroke-width="0.8" rx="0"/>
<rect x="341.0" y="614.4" width="55.30" height="39.80" filter="url(#n12)"/></svg>
</body></html>
